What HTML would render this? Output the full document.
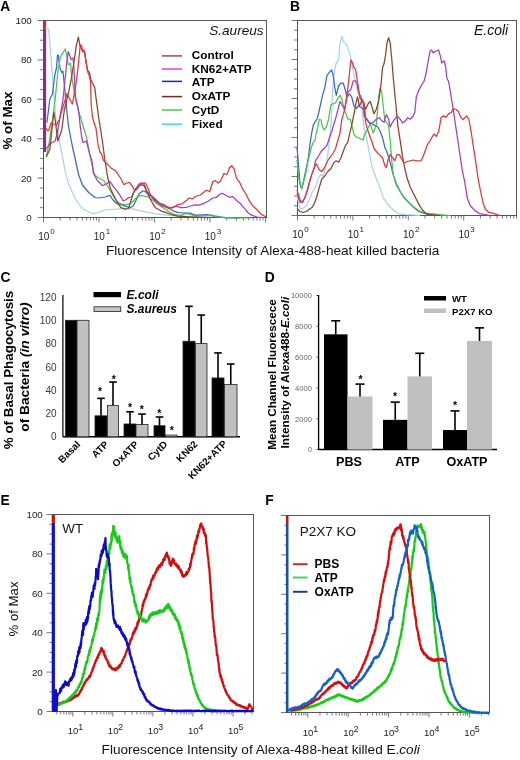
<!DOCTYPE html>
<html><head><meta charset="utf-8"><style>
html,body{margin:0;padding:0;background:#fff;}
svg{display:block;font-family:"Liberation Sans",sans-serif;will-change:transform;}
</style></head><body>
<svg width="520" height="760" viewBox="0 0 520 760">
<rect width="520" height="760" fill="#fff"/>
<text x="0.3" y="11.1" font-size="13.8" text-anchor="start" font-weight="bold" font-style="normal" fill="#000" >A</text>
<text x="289.9" y="10.9" font-size="13.8" text-anchor="start" font-weight="bold" font-style="normal" fill="#000" >B</text>
<text x="0.4" y="282.4" font-size="13.8" text-anchor="start" font-weight="bold" font-style="normal" fill="#000" >C</text>
<text x="264.8" y="281.6" font-size="13.8" text-anchor="start" font-weight="bold" font-style="normal" fill="#000" >D</text>
<text x="0.4" y="504.9" font-size="13.8" text-anchor="start" font-weight="bold" font-style="normal" fill="#000" >E</text>
<text x="265.3" y="504.9" font-size="13.8" text-anchor="start" font-weight="bold" font-style="normal" fill="#000" >F</text>
<rect x="43.5" y="20.5" width="223.0" height="197.0" fill="none" stroke="#555" stroke-width="1"/>
<line x1="37.5" y1="217.5" x2="43.5" y2="217.5" stroke="#555" stroke-width="0.8"/>
<text x="31.8" y="221.028" font-size="9.8" text-anchor="end" font-weight="normal" font-style="normal" fill="#222" >0</text>
<line x1="40.0" y1="207.65" x2="43.5" y2="207.65" stroke="#555" stroke-width="0.8"/>
<line x1="40.0" y1="197.8" x2="43.5" y2="197.8" stroke="#555" stroke-width="0.8"/>
<line x1="40.0" y1="187.95" x2="43.5" y2="187.95" stroke="#555" stroke-width="0.8"/>
<line x1="37.5" y1="178.1" x2="43.5" y2="178.1" stroke="#555" stroke-width="0.8"/>
<text x="31.8" y="181.628" font-size="9.8" text-anchor="end" font-weight="normal" font-style="normal" fill="#222" >20</text>
<line x1="40.0" y1="168.25" x2="43.5" y2="168.25" stroke="#555" stroke-width="0.8"/>
<line x1="40.0" y1="158.4" x2="43.5" y2="158.4" stroke="#555" stroke-width="0.8"/>
<line x1="40.0" y1="148.55" x2="43.5" y2="148.55" stroke="#555" stroke-width="0.8"/>
<line x1="37.5" y1="138.7" x2="43.5" y2="138.7" stroke="#555" stroke-width="0.8"/>
<text x="31.8" y="142.22799999999998" font-size="9.8" text-anchor="end" font-weight="normal" font-style="normal" fill="#222" >40</text>
<line x1="40.0" y1="128.85" x2="43.5" y2="128.85" stroke="#555" stroke-width="0.8"/>
<line x1="40.0" y1="119.0" x2="43.5" y2="119.0" stroke="#555" stroke-width="0.8"/>
<line x1="40.0" y1="109.15" x2="43.5" y2="109.15" stroke="#555" stroke-width="0.8"/>
<line x1="37.5" y1="99.3" x2="43.5" y2="99.3" stroke="#555" stroke-width="0.8"/>
<text x="31.8" y="102.828" font-size="9.8" text-anchor="end" font-weight="normal" font-style="normal" fill="#222" >60</text>
<line x1="40.0" y1="89.44999999999999" x2="43.5" y2="89.44999999999999" stroke="#555" stroke-width="0.8"/>
<line x1="40.0" y1="79.6" x2="43.5" y2="79.6" stroke="#555" stroke-width="0.8"/>
<line x1="40.0" y1="69.75" x2="43.5" y2="69.75" stroke="#555" stroke-width="0.8"/>
<line x1="37.5" y1="59.900000000000006" x2="43.5" y2="59.900000000000006" stroke="#555" stroke-width="0.8"/>
<text x="31.8" y="63.428000000000004" font-size="9.8" text-anchor="end" font-weight="normal" font-style="normal" fill="#222" >80</text>
<line x1="40.0" y1="50.05000000000001" x2="43.5" y2="50.05000000000001" stroke="#555" stroke-width="0.8"/>
<line x1="40.0" y1="40.19999999999999" x2="43.5" y2="40.19999999999999" stroke="#555" stroke-width="0.8"/>
<line x1="40.0" y1="30.349999999999994" x2="43.5" y2="30.349999999999994" stroke="#555" stroke-width="0.8"/>
<line x1="37.5" y1="20.5" x2="43.5" y2="20.5" stroke="#555" stroke-width="0.8"/>
<text x="31.8" y="24.028" font-size="9.8" text-anchor="end" font-weight="normal" font-style="normal" fill="#222" >100</text>
<line x1="43.5" y1="217.5" x2="43.5" y2="222.5" stroke="#555" stroke-width="0.8"/>
<line x1="60.20716475935096" y1="217.5" x2="60.20716475935096" y2="220.5" stroke="#555" stroke-width="0.8"/>
<line x1="69.98022963694126" y1="217.5" x2="69.98022963694126" y2="220.5" stroke="#555" stroke-width="0.8"/>
<line x1="76.91432951870192" y1="217.5" x2="76.91432951870192" y2="220.5" stroke="#555" stroke-width="0.8"/>
<line x1="82.29283524064905" y1="217.5" x2="82.29283524064905" y2="220.5" stroke="#555" stroke-width="0.8"/>
<line x1="86.68739439629222" y1="217.5" x2="86.68739439629222" y2="220.5" stroke="#555" stroke-width="0.8"/>
<line x1="90.40294122079126" y1="217.5" x2="90.40294122079126" y2="220.5" stroke="#555" stroke-width="0.8"/>
<line x1="93.62149427805286" y1="217.5" x2="93.62149427805286" y2="220.5" stroke="#555" stroke-width="0.8"/>
<line x1="96.46045927388252" y1="217.5" x2="96.46045927388252" y2="220.5" stroke="#555" stroke-width="0.8"/>
<line x1="99.0" y1="217.5" x2="99.0" y2="222.5" stroke="#555" stroke-width="0.8"/>
<line x1="115.70716475935096" y1="217.5" x2="115.70716475935096" y2="220.5" stroke="#555" stroke-width="0.8"/>
<line x1="125.48022963694126" y1="217.5" x2="125.48022963694126" y2="220.5" stroke="#555" stroke-width="0.8"/>
<line x1="132.41432951870192" y1="217.5" x2="132.41432951870192" y2="220.5" stroke="#555" stroke-width="0.8"/>
<line x1="137.79283524064903" y1="217.5" x2="137.79283524064903" y2="220.5" stroke="#555" stroke-width="0.8"/>
<line x1="142.18739439629223" y1="217.5" x2="142.18739439629223" y2="220.5" stroke="#555" stroke-width="0.8"/>
<line x1="145.90294122079126" y1="217.5" x2="145.90294122079126" y2="220.5" stroke="#555" stroke-width="0.8"/>
<line x1="149.12149427805286" y1="217.5" x2="149.12149427805286" y2="220.5" stroke="#555" stroke-width="0.8"/>
<line x1="151.96045927388252" y1="217.5" x2="151.96045927388252" y2="220.5" stroke="#555" stroke-width="0.8"/>
<line x1="154.5" y1="217.5" x2="154.5" y2="222.5" stroke="#555" stroke-width="0.8"/>
<line x1="171.20716475935097" y1="217.5" x2="171.20716475935097" y2="220.5" stroke="#555" stroke-width="0.8"/>
<line x1="180.98022963694126" y1="217.5" x2="180.98022963694126" y2="220.5" stroke="#555" stroke-width="0.8"/>
<line x1="187.91432951870192" y1="217.5" x2="187.91432951870192" y2="220.5" stroke="#555" stroke-width="0.8"/>
<line x1="193.29283524064903" y1="217.5" x2="193.29283524064903" y2="220.5" stroke="#555" stroke-width="0.8"/>
<line x1="197.68739439629223" y1="217.5" x2="197.68739439629223" y2="220.5" stroke="#555" stroke-width="0.8"/>
<line x1="201.40294122079126" y1="217.5" x2="201.40294122079126" y2="220.5" stroke="#555" stroke-width="0.8"/>
<line x1="204.62149427805286" y1="217.5" x2="204.62149427805286" y2="220.5" stroke="#555" stroke-width="0.8"/>
<line x1="207.46045927388252" y1="217.5" x2="207.46045927388252" y2="220.5" stroke="#555" stroke-width="0.8"/>
<line x1="210.0" y1="217.5" x2="210.0" y2="222.5" stroke="#555" stroke-width="0.8"/>
<line x1="226.70716475935097" y1="217.5" x2="226.70716475935097" y2="220.5" stroke="#555" stroke-width="0.8"/>
<line x1="236.48022963694126" y1="217.5" x2="236.48022963694126" y2="220.5" stroke="#555" stroke-width="0.8"/>
<line x1="243.41432951870192" y1="217.5" x2="243.41432951870192" y2="220.5" stroke="#555" stroke-width="0.8"/>
<line x1="248.79283524064903" y1="217.5" x2="248.79283524064903" y2="220.5" stroke="#555" stroke-width="0.8"/>
<line x1="253.18739439629223" y1="217.5" x2="253.18739439629223" y2="220.5" stroke="#555" stroke-width="0.8"/>
<line x1="256.90294122079126" y1="217.5" x2="256.90294122079126" y2="220.5" stroke="#555" stroke-width="0.8"/>
<line x1="260.12149427805286" y1="217.5" x2="260.12149427805286" y2="220.5" stroke="#555" stroke-width="0.8"/>
<line x1="262.9604592738825" y1="217.5" x2="262.9604592738825" y2="220.5" stroke="#555" stroke-width="0.8"/>
<line x1="265.5" y1="217.5" x2="265.5" y2="222.5" stroke="#555" stroke-width="0.8"/>
<text x="38.24" y="240" font-size="10" fill="#222">10<tspan font-size="8" dx="0.8" dy="-6.5">0</tspan></text>
<text x="93.74" y="240" font-size="10" fill="#222">10<tspan font-size="8" dx="0.8" dy="-6.5">1</tspan></text>
<text x="149.24" y="240" font-size="10" fill="#222">10<tspan font-size="8" dx="0.8" dy="-6.5">2</tspan></text>
<text x="204.74" y="240" font-size="10" fill="#222">10<tspan font-size="8" dx="0.8" dy="-6.5">3</tspan></text>
<text x="13" y="121.5" font-size="13.4" text-anchor="middle" font-weight="bold" font-style="normal" fill="#000" transform="rotate(-90 12 121.5)">% of Max</text>
<text x="263.6" y="35.3" font-size="13.6" text-anchor="end" font-weight="normal" font-style="italic" fill="#111" >S.aureus</text>
<line x1="162" y1="55.9" x2="182" y2="55.9" stroke="#c83c3c" stroke-width="1.5"/>
<text x="191.8" y="59.3" font-size="11.8" text-anchor="start" font-weight="bold" font-style="normal" fill="#000" >Control</text>
<line x1="162" y1="69" x2="182" y2="69" stroke="#e040e0" stroke-width="1.5"/>
<text x="191.8" y="72.5" font-size="11.8" text-anchor="start" font-weight="bold" font-style="normal" fill="#000" >KN62+ATP</text>
<line x1="162" y1="81.4" x2="182" y2="81.4" stroke="#2424b4" stroke-width="1.5"/>
<text x="191.8" y="86.2" font-size="11.8" text-anchor="start" font-weight="bold" font-style="normal" fill="#000" >ATP</text>
<line x1="162" y1="96.6" x2="182" y2="96.6" stroke="#802424" stroke-width="1.5"/>
<text x="191.8" y="100" font-size="11.8" text-anchor="start" font-weight="bold" font-style="normal" fill="#000" >OxATP</text>
<line x1="162" y1="110" x2="182" y2="110" stroke="#50c450" stroke-width="1.5"/>
<text x="191.8" y="113.8" font-size="11.8" text-anchor="start" font-weight="bold" font-style="normal" fill="#000" >CytD</text>
<line x1="162" y1="124.2" x2="182" y2="124.2" stroke="#40d8f0" stroke-width="1.5"/>
<text x="191.8" y="127.5" font-size="11.8" text-anchor="start" font-weight="bold" font-style="normal" fill="#000" >Fixed</text>
<rect x="297.5" y="20.5" width="219.0" height="195.0" fill="none" stroke="#555" stroke-width="1"/>
<line x1="291.5" y1="215.5" x2="297.5" y2="215.5" stroke="#555" stroke-width="0.8"/>
<line x1="294.0" y1="205.75" x2="297.5" y2="205.75" stroke="#555" stroke-width="0.8"/>
<line x1="294.0" y1="196.0" x2="297.5" y2="196.0" stroke="#555" stroke-width="0.8"/>
<line x1="294.0" y1="186.25" x2="297.5" y2="186.25" stroke="#555" stroke-width="0.8"/>
<line x1="291.5" y1="176.5" x2="297.5" y2="176.5" stroke="#555" stroke-width="0.8"/>
<line x1="294.0" y1="166.75" x2="297.5" y2="166.75" stroke="#555" stroke-width="0.8"/>
<line x1="294.0" y1="157.0" x2="297.5" y2="157.0" stroke="#555" stroke-width="0.8"/>
<line x1="294.0" y1="147.25" x2="297.5" y2="147.25" stroke="#555" stroke-width="0.8"/>
<line x1="291.5" y1="137.5" x2="297.5" y2="137.5" stroke="#555" stroke-width="0.8"/>
<line x1="294.0" y1="127.75" x2="297.5" y2="127.75" stroke="#555" stroke-width="0.8"/>
<line x1="294.0" y1="118.0" x2="297.5" y2="118.0" stroke="#555" stroke-width="0.8"/>
<line x1="294.0" y1="108.25" x2="297.5" y2="108.25" stroke="#555" stroke-width="0.8"/>
<line x1="291.5" y1="98.5" x2="297.5" y2="98.5" stroke="#555" stroke-width="0.8"/>
<line x1="294.0" y1="88.75" x2="297.5" y2="88.75" stroke="#555" stroke-width="0.8"/>
<line x1="294.0" y1="79.0" x2="297.5" y2="79.0" stroke="#555" stroke-width="0.8"/>
<line x1="294.0" y1="69.25" x2="297.5" y2="69.25" stroke="#555" stroke-width="0.8"/>
<line x1="291.5" y1="59.5" x2="297.5" y2="59.5" stroke="#555" stroke-width="0.8"/>
<line x1="294.0" y1="49.75" x2="297.5" y2="49.75" stroke="#555" stroke-width="0.8"/>
<line x1="294.0" y1="40.0" x2="297.5" y2="40.0" stroke="#555" stroke-width="0.8"/>
<line x1="294.0" y1="30.25" x2="297.5" y2="30.25" stroke="#555" stroke-width="0.8"/>
<line x1="291.5" y1="20.5" x2="297.5" y2="20.5" stroke="#555" stroke-width="0.8"/>
<line x1="297.5" y1="215.5" x2="297.5" y2="220.5" stroke="#555" stroke-width="0.8"/>
<line x1="314.1770617597846" y1="215.5" x2="314.1770617597846" y2="218.5" stroke="#555" stroke-width="0.8"/>
<line x1="323.9325175114693" y1="215.5" x2="323.9325175114693" y2="218.5" stroke="#555" stroke-width="0.8"/>
<line x1="330.8541235195691" y1="215.5" x2="330.8541235195691" y2="218.5" stroke="#555" stroke-width="0.8"/>
<line x1="336.22293824021546" y1="215.5" x2="336.22293824021546" y2="218.5" stroke="#555" stroke-width="0.8"/>
<line x1="340.60957927125384" y1="215.5" x2="340.60957927125384" y2="218.5" stroke="#555" stroke-width="0.8"/>
<line x1="344.31843141678985" y1="215.5" x2="344.31843141678985" y2="218.5" stroke="#555" stroke-width="0.8"/>
<line x1="347.5311852793537" y1="215.5" x2="347.5311852793537" y2="218.5" stroke="#555" stroke-width="0.8"/>
<line x1="350.3650350229386" y1="215.5" x2="350.3650350229386" y2="218.5" stroke="#555" stroke-width="0.8"/>
<line x1="352.9" y1="215.5" x2="352.9" y2="220.5" stroke="#555" stroke-width="0.8"/>
<line x1="369.57706175978456" y1="215.5" x2="369.57706175978456" y2="218.5" stroke="#555" stroke-width="0.8"/>
<line x1="379.3325175114693" y1="215.5" x2="379.3325175114693" y2="218.5" stroke="#555" stroke-width="0.8"/>
<line x1="386.25412351956913" y1="215.5" x2="386.25412351956913" y2="218.5" stroke="#555" stroke-width="0.8"/>
<line x1="391.62293824021543" y1="215.5" x2="391.62293824021543" y2="218.5" stroke="#555" stroke-width="0.8"/>
<line x1="396.00957927125387" y1="215.5" x2="396.00957927125387" y2="218.5" stroke="#555" stroke-width="0.8"/>
<line x1="399.7184314167898" y1="215.5" x2="399.7184314167898" y2="218.5" stroke="#555" stroke-width="0.8"/>
<line x1="402.93118527935366" y1="215.5" x2="402.93118527935366" y2="218.5" stroke="#555" stroke-width="0.8"/>
<line x1="405.7650350229386" y1="215.5" x2="405.7650350229386" y2="218.5" stroke="#555" stroke-width="0.8"/>
<line x1="408.3" y1="215.5" x2="408.3" y2="220.5" stroke="#555" stroke-width="0.8"/>
<line x1="424.97706175978453" y1="215.5" x2="424.97706175978453" y2="218.5" stroke="#555" stroke-width="0.8"/>
<line x1="434.73251751146927" y1="215.5" x2="434.73251751146927" y2="218.5" stroke="#555" stroke-width="0.8"/>
<line x1="441.6541235195691" y1="215.5" x2="441.6541235195691" y2="218.5" stroke="#555" stroke-width="0.8"/>
<line x1="447.02293824021547" y1="215.5" x2="447.02293824021547" y2="218.5" stroke="#555" stroke-width="0.8"/>
<line x1="451.40957927125385" y1="215.5" x2="451.40957927125385" y2="218.5" stroke="#555" stroke-width="0.8"/>
<line x1="455.1184314167898" y1="215.5" x2="455.1184314167898" y2="218.5" stroke="#555" stroke-width="0.8"/>
<line x1="458.3311852793537" y1="215.5" x2="458.3311852793537" y2="218.5" stroke="#555" stroke-width="0.8"/>
<line x1="461.1650350229386" y1="215.5" x2="461.1650350229386" y2="218.5" stroke="#555" stroke-width="0.8"/>
<line x1="463.7" y1="215.5" x2="463.7" y2="220.5" stroke="#555" stroke-width="0.8"/>
<line x1="480.37706175978457" y1="215.5" x2="480.37706175978457" y2="218.5" stroke="#555" stroke-width="0.8"/>
<line x1="490.1325175114693" y1="215.5" x2="490.1325175114693" y2="218.5" stroke="#555" stroke-width="0.8"/>
<line x1="497.0541235195691" y1="215.5" x2="497.0541235195691" y2="218.5" stroke="#555" stroke-width="0.8"/>
<line x1="502.42293824021544" y1="215.5" x2="502.42293824021544" y2="218.5" stroke="#555" stroke-width="0.8"/>
<line x1="506.8095792712538" y1="215.5" x2="506.8095792712538" y2="218.5" stroke="#555" stroke-width="0.8"/>
<line x1="510.51843141678984" y1="215.5" x2="510.51843141678984" y2="218.5" stroke="#555" stroke-width="0.8"/>
<line x1="513.7311852793537" y1="215.5" x2="513.7311852793537" y2="218.5" stroke="#555" stroke-width="0.8"/>
<line x1="516.5650350229386" y1="215.5" x2="516.5650350229386" y2="218.5" stroke="#555" stroke-width="0.8"/>
<text x="292.24" y="238.2" font-size="10" fill="#222">10<tspan font-size="8" dx="0.8" dy="-6.5">0</tspan></text>
<text x="347.64" y="238.2" font-size="10" fill="#222">10<tspan font-size="8" dx="0.8" dy="-6.5">1</tspan></text>
<text x="403.04" y="238.2" font-size="10" fill="#222">10<tspan font-size="8" dx="0.8" dy="-6.5">2</tspan></text>
<text x="458.44" y="238.2" font-size="10" fill="#222">10<tspan font-size="8" dx="0.8" dy="-6.5">3</tspan></text>
<text x="508.2" y="34.8" font-size="14" text-anchor="end" font-weight="normal" font-style="italic" fill="#111" >E.coli</text>
<text x="106" y="255" font-size="13.6" text-anchor="start" font-weight="normal" font-style="normal" fill="#111" >Fluorescence Intensity of Alexa-488-heat killed bacteria</text>
<line x1="62.9" y1="295" x2="62.9" y2="436.8" stroke="#000" stroke-width="1.2"/>
<line x1="62.9" y1="436.8" x2="240" y2="436.8" stroke="#000" stroke-width="1.5"/>
<text x="56.5" y="440.40000000000003" font-size="10" text-anchor="end" font-weight="normal" font-style="normal" fill="#3a3a3a" >0</text>
<text x="56.5" y="417.1" font-size="10" text-anchor="end" font-weight="normal" font-style="normal" fill="#3a3a3a" >20</text>
<text x="56.5" y="393.8" font-size="10" text-anchor="end" font-weight="normal" font-style="normal" fill="#3a3a3a" >40</text>
<text x="56.5" y="370.5" font-size="10" text-anchor="end" font-weight="normal" font-style="normal" fill="#3a3a3a" >60</text>
<text x="56.5" y="347.20000000000005" font-size="10" text-anchor="end" font-weight="normal" font-style="normal" fill="#3a3a3a" >80</text>
<text x="56.5" y="323.90000000000003" font-size="10" text-anchor="end" font-weight="normal" font-style="normal" fill="#3a3a3a" >100</text>
<text x="56.5" y="300.6" font-size="10" text-anchor="end" font-weight="normal" font-style="normal" fill="#3a3a3a" >120</text>
<rect x="65.5" y="320.3" width="11.5" height="116.5" fill="#000" stroke="#222" stroke-width="0.8"/>
<rect x="77" y="320.3" width="12" height="116.5" fill="#c0c0c0" stroke="#222" stroke-width="0.8"/>
<rect x="95" y="415.83000000000004" width="12" height="20.96999999999997" fill="#000" stroke="#222" stroke-width="0.8"/>
<line x1="101.0" y1="415.83000000000004" x2="101.0" y2="398.355" stroke="#000" stroke-width="1.6"/>
<line x1="97.2" y1="398.355" x2="104.8" y2="398.355" stroke="#000" stroke-width="1.6"/>
<rect x="107.5" y="405.345" width="11.0" height="31.454999999999984" fill="#c0c0c0" stroke="#222" stroke-width="0.8"/>
<line x1="113.0" y1="405.345" x2="113.0" y2="382.045" stroke="#000" stroke-width="1.6"/>
<line x1="109.2" y1="382.045" x2="116.8" y2="382.045" stroke="#000" stroke-width="1.6"/>
<rect x="124" y="423.985" width="12" height="12.814999999999998" fill="#000" stroke="#222" stroke-width="0.8"/>
<line x1="130.0" y1="423.985" x2="130.0" y2="411.7525" stroke="#000" stroke-width="1.6"/>
<line x1="126.2" y1="411.7525" x2="133.8" y2="411.7525" stroke="#000" stroke-width="1.6"/>
<rect x="136" y="424.5675" width="12" height="12.232500000000016" fill="#c0c0c0" stroke="#222" stroke-width="0.8"/>
<line x1="142.0" y1="424.5675" x2="142.0" y2="414.0825" stroke="#000" stroke-width="1.6"/>
<line x1="138.2" y1="414.0825" x2="145.8" y2="414.0825" stroke="#000" stroke-width="1.6"/>
<rect x="154" y="425.7325" width="11" height="11.067499999999995" fill="#000" stroke="#222" stroke-width="0.8"/>
<line x1="159.5" y1="425.7325" x2="159.5" y2="416.995" stroke="#000" stroke-width="1.6"/>
<line x1="155.7" y1="416.995" x2="163.3" y2="416.995" stroke="#000" stroke-width="1.6"/>
<rect x="165.5" y="435.0525" width="11.5" height="1.7475000000000023" fill="#c0c0c0" stroke="#222" stroke-width="0.8"/>
<rect x="183" y="341.27" width="12" height="95.53000000000003" fill="#000" stroke="#222" stroke-width="0.8"/>
<line x1="189.0" y1="341.27" x2="189.0" y2="306.32" stroke="#000" stroke-width="1.6"/>
<line x1="185.2" y1="306.32" x2="192.8" y2="306.32" stroke="#000" stroke-width="1.6"/>
<rect x="195.5" y="343.6" width="11.5" height="93.19999999999999" fill="#c0c0c0" stroke="#222" stroke-width="0.8"/>
<line x1="201.25" y1="343.6" x2="201.25" y2="315.0575" stroke="#000" stroke-width="1.6"/>
<line x1="197.45" y1="315.0575" x2="205.05" y2="315.0575" stroke="#000" stroke-width="1.6"/>
<rect x="212" y="377.96750000000003" width="12" height="58.83249999999998" fill="#000" stroke="#222" stroke-width="0.8"/>
<line x1="218.0" y1="377.96750000000003" x2="218.0" y2="352.92" stroke="#000" stroke-width="1.6"/>
<line x1="214.2" y1="352.92" x2="221.8" y2="352.92" stroke="#000" stroke-width="1.6"/>
<rect x="224.5" y="384.375" width="12.5" height="52.42500000000001" fill="#c0c0c0" stroke="#222" stroke-width="0.8"/>
<line x1="230.75" y1="384.375" x2="230.75" y2="363.9875" stroke="#000" stroke-width="1.6"/>
<line x1="226.95" y1="363.9875" x2="234.55" y2="363.9875" stroke="#000" stroke-width="1.6"/>
<text x="100.1" y="395.29999999999995" font-size="10.5" text-anchor="middle" font-weight="bold" font-style="normal" fill="#000" >*</text>
<text x="113.9" y="382.59999999999997" font-size="10.5" text-anchor="middle" font-weight="bold" font-style="normal" fill="#000" >*</text>
<text x="130.1" y="411.4" font-size="10.5" text-anchor="middle" font-weight="bold" font-style="normal" fill="#000" >*</text>
<text x="141.9" y="412.9" font-size="10.5" text-anchor="middle" font-weight="bold" font-style="normal" fill="#000" >*</text>
<text x="159.4" y="417.4" font-size="10.5" text-anchor="middle" font-weight="bold" font-style="normal" fill="#000" >*</text>
<text x="171.9" y="433.59999999999997" font-size="10.5" text-anchor="middle" font-weight="bold" font-style="normal" fill="#000" >*</text>
<rect x="93.5" y="292" width="27.5" height="5.2" fill="#000" stroke="none" stroke-width="0"/>
<rect x="94" y="306.8" width="26.8" height="4.6" fill="#c4c4c4" stroke="#222" stroke-width="0.8"/>
<text x="126.6" y="298.6" font-size="12" text-anchor="start" font-weight="bold" font-style="italic" fill="#000" >E.coli</text>
<text x="126.6" y="312.6" font-size="11.9" text-anchor="start" font-weight="bold" font-style="italic" fill="#000" >S.aureus</text>
<text x="80.89999999999999" y="445.0" font-size="9.9" text-anchor="end" font-weight="bold" font-style="normal" fill="#000" transform="rotate(-45 80.89999999999999 445.0)">Basal</text>
<text x="109.19999999999999" y="445.0" font-size="9.9" text-anchor="end" font-weight="bold" font-style="normal" fill="#000" transform="rotate(-45 109.19999999999999 445.0)">ATP</text>
<text x="139.1" y="445.0" font-size="9.9" text-anchor="end" font-weight="bold" font-style="normal" fill="#000" transform="rotate(-45 139.1 445.0)">OxATP</text>
<text x="168.1" y="445.0" font-size="9.9" text-anchor="end" font-weight="bold" font-style="normal" fill="#000" transform="rotate(-45 168.1 445.0)">CytD</text>
<text x="198.2" y="444.8" font-size="9.9" text-anchor="end" font-weight="bold" font-style="normal" fill="#000" transform="rotate(-45 198.2 444.8)">KN62</text>
<text x="227.6" y="444.4" font-size="9.9" text-anchor="end" font-weight="bold" font-style="normal" fill="#000" transform="rotate(-45 227.6 444.4)">KN62+ATP</text>
<text x="13.2" y="370" font-size="13.4" text-anchor="middle" font-weight="bold" font-style="normal" fill="#000" transform="rotate(-90 13.2 370)">% of Basal Phagocytosis</text>
<text x="28.8" y="367" font-size="13.7" text-anchor="middle" font-weight="bold" transform="rotate(-90 28.8 367)">of Bacteria <tspan font-style="italic">(in vitro)</tspan></text>
<line x1="318.6" y1="295" x2="318.6" y2="449.6" stroke="#000" stroke-width="1.3"/>
<line x1="318.6" y1="449.6" x2="497" y2="449.6" stroke="#000" stroke-width="1.5"/>
<line x1="316.6" y1="449.6" x2="318.6" y2="449.6" stroke="#000" stroke-width="0.8"/>
<text x="312" y="452.40000000000003" font-size="7.6" text-anchor="end" font-weight="normal" font-style="normal" fill="#666" >0</text>
<line x1="316.6" y1="418.78000000000003" x2="318.6" y2="418.78000000000003" stroke="#000" stroke-width="0.8"/>
<text x="312" y="421.58000000000004" font-size="7.6" text-anchor="end" font-weight="normal" font-style="normal" fill="#666" >2000</text>
<line x1="316.6" y1="387.96000000000004" x2="318.6" y2="387.96000000000004" stroke="#000" stroke-width="0.8"/>
<text x="312" y="390.76000000000005" font-size="7.6" text-anchor="end" font-weight="normal" font-style="normal" fill="#666" >4000</text>
<line x1="316.6" y1="357.14" x2="318.6" y2="357.14" stroke="#000" stroke-width="0.8"/>
<text x="312" y="359.94" font-size="7.6" text-anchor="end" font-weight="normal" font-style="normal" fill="#666" >6000</text>
<line x1="316.6" y1="326.32" x2="318.6" y2="326.32" stroke="#000" stroke-width="0.8"/>
<text x="312" y="329.12" font-size="7.6" text-anchor="end" font-weight="normal" font-style="normal" fill="#666" >8000</text>
<line x1="316.6" y1="295.5" x2="318.6" y2="295.5" stroke="#000" stroke-width="0.8"/>
<text x="312" y="298.3" font-size="7.6" text-anchor="end" font-weight="normal" font-style="normal" fill="#666" >10000</text>
<rect x="324" y="334.33320000000003" width="23.5" height="115.26679999999999" fill="#000" stroke="none" stroke-width="0"/>
<line x1="335.75" y1="334.33320000000003" x2="335.75" y2="320.7724" stroke="#000" stroke-width="1.6"/>
<line x1="331.25" y1="320.7724" x2="340.25" y2="320.7724" stroke="#000" stroke-width="1.6"/>
<rect x="347.5" y="396.43550000000005" width="25.0" height="53.164499999999975" fill="#c0c0c0" stroke="none" stroke-width="0"/>
<line x1="360.0" y1="396.43550000000005" x2="360.0" y2="384.1075000000001" stroke="#000" stroke-width="1.6"/>
<line x1="355.5" y1="384.1075000000001" x2="364.5" y2="384.1075000000001" stroke="#000" stroke-width="1.6"/>
<rect x="383" y="419.8587" width="24.5" height="29.741300000000024" fill="#000" stroke="none" stroke-width="0"/>
<line x1="395.25" y1="419.8587" x2="395.25" y2="402.1372" stroke="#000" stroke-width="1.6"/>
<line x1="390.75" y1="402.1372" x2="399.75" y2="402.1372" stroke="#000" stroke-width="1.6"/>
<rect x="407.5" y="376.40250000000003" width="24.5" height="73.19749999999999" fill="#c0c0c0" stroke="none" stroke-width="0"/>
<line x1="419.75" y1="376.40250000000003" x2="419.75" y2="353.2875" stroke="#000" stroke-width="1.6"/>
<line x1="415.25" y1="353.2875" x2="424.25" y2="353.2875" stroke="#000" stroke-width="1.6"/>
<rect x="443" y="430.02930000000003" width="24" height="19.570699999999988" fill="#000" stroke="none" stroke-width="0"/>
<line x1="455.0" y1="430.02930000000003" x2="455.0" y2="410.9209" stroke="#000" stroke-width="1.6"/>
<line x1="450.5" y1="410.9209" x2="459.5" y2="410.9209" stroke="#000" stroke-width="1.6"/>
<rect x="467" y="340.9595" width="25" height="108.64050000000003" fill="#c0c0c0" stroke="none" stroke-width="0"/>
<line x1="479.5" y1="340.9595" x2="479.5" y2="327.861" stroke="#000" stroke-width="1.6"/>
<line x1="475.0" y1="327.861" x2="484.0" y2="327.861" stroke="#000" stroke-width="1.6"/>
<text x="360.5" y="382.9" font-size="10.5" text-anchor="middle" font-weight="bold" font-style="normal" fill="#000" >*</text>
<text x="395" y="400.4" font-size="10.5" text-anchor="middle" font-weight="bold" font-style="normal" fill="#000" >*</text>
<text x="455" y="409.4" font-size="10.5" text-anchor="middle" font-weight="bold" font-style="normal" fill="#000" >*</text>
<text x="349" y="466" font-size="12.6" text-anchor="middle" font-weight="bold" font-style="normal" fill="#000" >PBS</text>
<text x="407.5" y="466" font-size="12.6" text-anchor="middle" font-weight="bold" font-style="normal" fill="#000" >ATP</text>
<text x="467" y="466" font-size="12.6" text-anchor="middle" font-weight="bold" font-style="normal" fill="#000" >OxATP</text>
<rect x="424" y="296" width="22" height="4.5" fill="#000" stroke="none" stroke-width="0"/>
<rect x="424" y="308.5" width="22" height="4.5" fill="#c0c0c0" stroke="none" stroke-width="0"/>
<text x="452" y="301.5" font-size="9.6" text-anchor="start" font-weight="bold" font-style="normal" fill="#000" >WT</text>
<text x="452" y="314.5" font-size="9.6" text-anchor="start" font-weight="bold" font-style="normal" fill="#000" >P2X7 KO</text>
<text x="276" y="374.5" font-size="11.7" text-anchor="middle" font-weight="bold" font-style="normal" fill="#000" transform="rotate(-90 276 374.5)">Mean Channel Fluorescece</text>
<text x="288.8" y="372.6" font-size="11.75" text-anchor="middle" font-weight="bold" transform="rotate(-90 288.8 372.6)">Intensity of Alexa488-<tspan font-style="italic">E.coli</tspan></text>
<rect x="52.5" y="514.5" width="201.0" height="197.0" fill="none" stroke="#555" stroke-width="1"/>
<line x1="46.5" y1="711.5" x2="52.5" y2="711.5" stroke="#555" stroke-width="0.8"/>
<text x="42.8" y="715.028" font-size="9.8" text-anchor="end" font-weight="normal" font-style="normal" fill="#222" >0</text>
<line x1="49.5" y1="701.65" x2="52.5" y2="701.65" stroke="#555" stroke-width="0.8"/>
<line x1="49.5" y1="691.8" x2="52.5" y2="691.8" stroke="#555" stroke-width="0.8"/>
<line x1="49.5" y1="681.95" x2="52.5" y2="681.95" stroke="#555" stroke-width="0.8"/>
<line x1="46.5" y1="672.1" x2="52.5" y2="672.1" stroke="#555" stroke-width="0.8"/>
<text x="42.8" y="675.628" font-size="9.8" text-anchor="end" font-weight="normal" font-style="normal" fill="#222" >20</text>
<line x1="49.5" y1="662.25" x2="52.5" y2="662.25" stroke="#555" stroke-width="0.8"/>
<line x1="49.5" y1="652.4" x2="52.5" y2="652.4" stroke="#555" stroke-width="0.8"/>
<line x1="49.5" y1="642.55" x2="52.5" y2="642.55" stroke="#555" stroke-width="0.8"/>
<line x1="46.5" y1="632.7" x2="52.5" y2="632.7" stroke="#555" stroke-width="0.8"/>
<text x="42.8" y="636.2280000000001" font-size="9.8" text-anchor="end" font-weight="normal" font-style="normal" fill="#222" >40</text>
<line x1="49.5" y1="622.85" x2="52.5" y2="622.85" stroke="#555" stroke-width="0.8"/>
<line x1="49.5" y1="613.0" x2="52.5" y2="613.0" stroke="#555" stroke-width="0.8"/>
<line x1="49.5" y1="603.15" x2="52.5" y2="603.15" stroke="#555" stroke-width="0.8"/>
<line x1="46.5" y1="593.3" x2="52.5" y2="593.3" stroke="#555" stroke-width="0.8"/>
<text x="42.8" y="596.828" font-size="9.8" text-anchor="end" font-weight="normal" font-style="normal" fill="#222" >60</text>
<line x1="49.5" y1="583.45" x2="52.5" y2="583.45" stroke="#555" stroke-width="0.8"/>
<line x1="49.5" y1="573.6" x2="52.5" y2="573.6" stroke="#555" stroke-width="0.8"/>
<line x1="49.5" y1="563.75" x2="52.5" y2="563.75" stroke="#555" stroke-width="0.8"/>
<line x1="46.5" y1="553.9" x2="52.5" y2="553.9" stroke="#555" stroke-width="0.8"/>
<text x="42.8" y="557.428" font-size="9.8" text-anchor="end" font-weight="normal" font-style="normal" fill="#222" >80</text>
<line x1="49.5" y1="544.05" x2="52.5" y2="544.05" stroke="#555" stroke-width="0.8"/>
<line x1="49.5" y1="534.2" x2="52.5" y2="534.2" stroke="#555" stroke-width="0.8"/>
<line x1="49.5" y1="524.35" x2="52.5" y2="524.35" stroke="#555" stroke-width="0.8"/>
<line x1="46.5" y1="514.5" x2="52.5" y2="514.5" stroke="#555" stroke-width="0.8"/>
<text x="42.8" y="518.028" font-size="9.8" text-anchor="end" font-weight="normal" font-style="normal" fill="#222" >100</text>
<line x1="56.862502652684896" y1="711.5" x2="56.862502652684896" y2="714.5" stroke="#555" stroke-width="0.8"/>
<line x1="60.74374867365755" y1="711.5" x2="60.74374867365755" y2="714.5" stroke="#555" stroke-width="0.8"/>
<line x1="63.914957577864925" y1="711.5" x2="63.914957577864925" y2="714.5" stroke="#555" stroke-width="0.8"/>
<line x1="66.59617650257098" y1="711.5" x2="66.59617650257098" y2="714.5" stroke="#555" stroke-width="0.8"/>
<line x1="68.91875397902734" y1="711.5" x2="68.91875397902734" y2="714.5" stroke="#555" stroke-width="0.8"/>
<line x1="70.96741250304495" y1="711.5" x2="70.96741250304495" y2="714.5" stroke="#555" stroke-width="0.8"/>
<line x1="72.8" y1="711.5" x2="72.8" y2="716.5" stroke="#555" stroke-width="0.8"/>
<line x1="84.85625132634244" y1="711.5" x2="84.85625132634244" y2="714.5" stroke="#555" stroke-width="0.8"/>
<line x1="91.90870625152247" y1="711.5" x2="91.90870625152247" y2="714.5" stroke="#555" stroke-width="0.8"/>
<line x1="96.91250265268489" y1="711.5" x2="96.91250265268489" y2="714.5" stroke="#555" stroke-width="0.8"/>
<line x1="100.79374867365755" y1="711.5" x2="100.79374867365755" y2="714.5" stroke="#555" stroke-width="0.8"/>
<line x1="103.96495757786492" y1="711.5" x2="103.96495757786492" y2="714.5" stroke="#555" stroke-width="0.8"/>
<line x1="106.64617650257098" y1="711.5" x2="106.64617650257098" y2="714.5" stroke="#555" stroke-width="0.8"/>
<line x1="108.96875397902733" y1="711.5" x2="108.96875397902733" y2="714.5" stroke="#555" stroke-width="0.8"/>
<line x1="111.01741250304495" y1="711.5" x2="111.01741250304495" y2="714.5" stroke="#555" stroke-width="0.8"/>
<line x1="112.85" y1="711.5" x2="112.85" y2="716.5" stroke="#555" stroke-width="0.8"/>
<line x1="124.90625132634244" y1="711.5" x2="124.90625132634244" y2="714.5" stroke="#555" stroke-width="0.8"/>
<line x1="131.95870625152247" y1="711.5" x2="131.95870625152247" y2="714.5" stroke="#555" stroke-width="0.8"/>
<line x1="136.9625026526849" y1="711.5" x2="136.9625026526849" y2="714.5" stroke="#555" stroke-width="0.8"/>
<line x1="140.84374867365756" y1="711.5" x2="140.84374867365756" y2="714.5" stroke="#555" stroke-width="0.8"/>
<line x1="144.01495757786495" y1="711.5" x2="144.01495757786495" y2="714.5" stroke="#555" stroke-width="0.8"/>
<line x1="146.69617650257098" y1="711.5" x2="146.69617650257098" y2="714.5" stroke="#555" stroke-width="0.8"/>
<line x1="149.01875397902734" y1="711.5" x2="149.01875397902734" y2="714.5" stroke="#555" stroke-width="0.8"/>
<line x1="151.06741250304495" y1="711.5" x2="151.06741250304495" y2="714.5" stroke="#555" stroke-width="0.8"/>
<line x1="152.89999999999998" y1="711.5" x2="152.89999999999998" y2="716.5" stroke="#555" stroke-width="0.8"/>
<line x1="164.95625132634245" y1="711.5" x2="164.95625132634245" y2="714.5" stroke="#555" stroke-width="0.8"/>
<line x1="172.00870625152248" y1="711.5" x2="172.00870625152248" y2="714.5" stroke="#555" stroke-width="0.8"/>
<line x1="177.0125026526849" y1="711.5" x2="177.0125026526849" y2="714.5" stroke="#555" stroke-width="0.8"/>
<line x1="180.89374867365754" y1="711.5" x2="180.89374867365754" y2="714.5" stroke="#555" stroke-width="0.8"/>
<line x1="184.06495757786493" y1="711.5" x2="184.06495757786493" y2="714.5" stroke="#555" stroke-width="0.8"/>
<line x1="186.746176502571" y1="711.5" x2="186.746176502571" y2="714.5" stroke="#555" stroke-width="0.8"/>
<line x1="189.06875397902735" y1="711.5" x2="189.06875397902735" y2="714.5" stroke="#555" stroke-width="0.8"/>
<line x1="191.11741250304493" y1="711.5" x2="191.11741250304493" y2="714.5" stroke="#555" stroke-width="0.8"/>
<line x1="192.95" y1="711.5" x2="192.95" y2="716.5" stroke="#555" stroke-width="0.8"/>
<line x1="205.00625132634244" y1="711.5" x2="205.00625132634244" y2="714.5" stroke="#555" stroke-width="0.8"/>
<line x1="212.05870625152247" y1="711.5" x2="212.05870625152247" y2="714.5" stroke="#555" stroke-width="0.8"/>
<line x1="217.06250265268488" y1="711.5" x2="217.06250265268488" y2="714.5" stroke="#555" stroke-width="0.8"/>
<line x1="220.94374867365752" y1="711.5" x2="220.94374867365752" y2="714.5" stroke="#555" stroke-width="0.8"/>
<line x1="224.1149575778649" y1="711.5" x2="224.1149575778649" y2="714.5" stroke="#555" stroke-width="0.8"/>
<line x1="226.79617650257097" y1="711.5" x2="226.79617650257097" y2="714.5" stroke="#555" stroke-width="0.8"/>
<line x1="229.11875397902733" y1="711.5" x2="229.11875397902733" y2="714.5" stroke="#555" stroke-width="0.8"/>
<line x1="231.16741250304497" y1="711.5" x2="231.16741250304497" y2="714.5" stroke="#555" stroke-width="0.8"/>
<line x1="233.0" y1="711.5" x2="233.0" y2="716.5" stroke="#555" stroke-width="0.8"/>
<line x1="245.05625132634245" y1="711.5" x2="245.05625132634245" y2="714.5" stroke="#555" stroke-width="0.8"/>
<line x1="252.10870625152248" y1="711.5" x2="252.10870625152248" y2="714.5" stroke="#555" stroke-width="0.8"/>
<text x="67.76" y="733.7" font-size="9.6" fill="#222">10<tspan font-size="8.8" dx="-0.2" dy="-4.2">1</tspan></text>
<text x="107.81" y="733.7" font-size="9.6" fill="#222">10<tspan font-size="8.8" dx="-0.2" dy="-4.2">2</tspan></text>
<text x="147.86" y="733.7" font-size="9.6" fill="#222">10<tspan font-size="8.8" dx="-0.2" dy="-4.2">3</tspan></text>
<text x="187.91" y="733.7" font-size="9.6" fill="#222">10<tspan font-size="8.8" dx="-0.2" dy="-4.2">4</tspan></text>
<text x="227.96" y="733.7" font-size="9.6" fill="#222">10<tspan font-size="8.8" dx="-0.2" dy="-4.2">5</tspan></text>
<text x="62.3" y="533" font-size="13.4" text-anchor="start" font-weight="normal" font-style="normal" fill="#111" >WT</text>
<text x="18" y="609" font-size="13.2" text-anchor="middle" font-weight="normal" font-style="normal" fill="#111" transform="rotate(-90 18 609)">% of Max</text>
<rect x="287.5" y="515.5" width="202.0" height="197.0" fill="none" stroke="#555" stroke-width="1"/>
<line x1="281.0" y1="712.5" x2="287.5" y2="712.5" stroke="#555" stroke-width="0.8"/>
<line x1="284.5" y1="702.65" x2="287.5" y2="702.65" stroke="#555" stroke-width="0.8"/>
<line x1="284.5" y1="692.8" x2="287.5" y2="692.8" stroke="#555" stroke-width="0.8"/>
<line x1="284.5" y1="682.95" x2="287.5" y2="682.95" stroke="#555" stroke-width="0.8"/>
<line x1="281.0" y1="673.1" x2="287.5" y2="673.1" stroke="#555" stroke-width="0.8"/>
<line x1="284.5" y1="663.25" x2="287.5" y2="663.25" stroke="#555" stroke-width="0.8"/>
<line x1="284.5" y1="653.4" x2="287.5" y2="653.4" stroke="#555" stroke-width="0.8"/>
<line x1="284.5" y1="643.55" x2="287.5" y2="643.55" stroke="#555" stroke-width="0.8"/>
<line x1="281.0" y1="633.7" x2="287.5" y2="633.7" stroke="#555" stroke-width="0.8"/>
<line x1="284.5" y1="623.85" x2="287.5" y2="623.85" stroke="#555" stroke-width="0.8"/>
<line x1="284.5" y1="614.0" x2="287.5" y2="614.0" stroke="#555" stroke-width="0.8"/>
<line x1="284.5" y1="604.15" x2="287.5" y2="604.15" stroke="#555" stroke-width="0.8"/>
<line x1="281.0" y1="594.3" x2="287.5" y2="594.3" stroke="#555" stroke-width="0.8"/>
<line x1="284.5" y1="584.45" x2="287.5" y2="584.45" stroke="#555" stroke-width="0.8"/>
<line x1="284.5" y1="574.6" x2="287.5" y2="574.6" stroke="#555" stroke-width="0.8"/>
<line x1="284.5" y1="564.75" x2="287.5" y2="564.75" stroke="#555" stroke-width="0.8"/>
<line x1="281.0" y1="554.9" x2="287.5" y2="554.9" stroke="#555" stroke-width="0.8"/>
<line x1="284.5" y1="545.05" x2="287.5" y2="545.05" stroke="#555" stroke-width="0.8"/>
<line x1="284.5" y1="535.2" x2="287.5" y2="535.2" stroke="#555" stroke-width="0.8"/>
<line x1="284.5" y1="525.35" x2="287.5" y2="525.35" stroke="#555" stroke-width="0.8"/>
<line x1="281.0" y1="515.5" x2="287.5" y2="515.5" stroke="#555" stroke-width="0.8"/>
<line x1="291.72322364964964" y1="712.5" x2="291.72322364964964" y2="715.5" stroke="#555" stroke-width="0.8"/>
<line x1="295.6383881751751" y1="712.5" x2="295.6383881751751" y2="715.5" stroke="#555" stroke-width="0.8"/>
<line x1="298.83731051549915" y1="712.5" x2="298.83731051549915" y2="715.5" stroke="#555" stroke-width="0.8"/>
<line x1="301.54196081657597" y1="712.5" x2="301.54196081657597" y2="715.5" stroke="#555" stroke-width="0.8"/>
<line x1="303.88483547447447" y1="712.5" x2="303.88483547447447" y2="715.5" stroke="#555" stroke-width="0.8"/>
<line x1="305.95139738134867" y1="712.5" x2="305.95139738134867" y2="715.5" stroke="#555" stroke-width="0.8"/>
<line x1="307.79999999999995" y1="712.5" x2="307.79999999999995" y2="717.5" stroke="#555" stroke-width="0.8"/>
<line x1="319.96161182482484" y1="712.5" x2="319.96161182482484" y2="715.5" stroke="#555" stroke-width="0.8"/>
<line x1="327.07569869067436" y1="712.5" x2="327.07569869067436" y2="715.5" stroke="#555" stroke-width="0.8"/>
<line x1="332.1232236496497" y1="712.5" x2="332.1232236496497" y2="715.5" stroke="#555" stroke-width="0.8"/>
<line x1="336.0383881751751" y1="712.5" x2="336.0383881751751" y2="715.5" stroke="#555" stroke-width="0.8"/>
<line x1="339.2373105154992" y1="712.5" x2="339.2373105154992" y2="715.5" stroke="#555" stroke-width="0.8"/>
<line x1="341.94196081657594" y1="712.5" x2="341.94196081657594" y2="715.5" stroke="#555" stroke-width="0.8"/>
<line x1="344.2848354744745" y1="712.5" x2="344.2848354744745" y2="715.5" stroke="#555" stroke-width="0.8"/>
<line x1="346.3513973813487" y1="712.5" x2="346.3513973813487" y2="715.5" stroke="#555" stroke-width="0.8"/>
<line x1="348.2" y1="712.5" x2="348.2" y2="717.5" stroke="#555" stroke-width="0.8"/>
<line x1="360.3616118248248" y1="712.5" x2="360.3616118248248" y2="715.5" stroke="#555" stroke-width="0.8"/>
<line x1="367.47569869067434" y1="712.5" x2="367.47569869067434" y2="715.5" stroke="#555" stroke-width="0.8"/>
<line x1="372.52322364964965" y1="712.5" x2="372.52322364964965" y2="715.5" stroke="#555" stroke-width="0.8"/>
<line x1="376.43838817517513" y1="712.5" x2="376.43838817517513" y2="715.5" stroke="#555" stroke-width="0.8"/>
<line x1="379.63731051549917" y1="712.5" x2="379.63731051549917" y2="715.5" stroke="#555" stroke-width="0.8"/>
<line x1="382.3419608165759" y1="712.5" x2="382.3419608165759" y2="715.5" stroke="#555" stroke-width="0.8"/>
<line x1="384.6848354744745" y1="712.5" x2="384.6848354744745" y2="715.5" stroke="#555" stroke-width="0.8"/>
<line x1="386.7513973813487" y1="712.5" x2="386.7513973813487" y2="715.5" stroke="#555" stroke-width="0.8"/>
<line x1="388.59999999999997" y1="712.5" x2="388.59999999999997" y2="717.5" stroke="#555" stroke-width="0.8"/>
<line x1="400.76161182482485" y1="712.5" x2="400.76161182482485" y2="715.5" stroke="#555" stroke-width="0.8"/>
<line x1="407.8756986906743" y1="712.5" x2="407.8756986906743" y2="715.5" stroke="#555" stroke-width="0.8"/>
<line x1="412.9232236496497" y1="712.5" x2="412.9232236496497" y2="715.5" stroke="#555" stroke-width="0.8"/>
<line x1="416.83838817517517" y1="712.5" x2="416.83838817517517" y2="715.5" stroke="#555" stroke-width="0.8"/>
<line x1="420.03731051549914" y1="712.5" x2="420.03731051549914" y2="715.5" stroke="#555" stroke-width="0.8"/>
<line x1="422.74196081657595" y1="712.5" x2="422.74196081657595" y2="715.5" stroke="#555" stroke-width="0.8"/>
<line x1="425.0848354744745" y1="712.5" x2="425.0848354744745" y2="715.5" stroke="#555" stroke-width="0.8"/>
<line x1="427.1513973813487" y1="712.5" x2="427.1513973813487" y2="715.5" stroke="#555" stroke-width="0.8"/>
<line x1="429.0" y1="712.5" x2="429.0" y2="717.5" stroke="#555" stroke-width="0.8"/>
<line x1="441.16161182482483" y1="712.5" x2="441.16161182482483" y2="715.5" stroke="#555" stroke-width="0.8"/>
<line x1="448.27569869067435" y1="712.5" x2="448.27569869067435" y2="715.5" stroke="#555" stroke-width="0.8"/>
<line x1="453.32322364964966" y1="712.5" x2="453.32322364964966" y2="715.5" stroke="#555" stroke-width="0.8"/>
<line x1="457.23838817517515" y1="712.5" x2="457.23838817517515" y2="715.5" stroke="#555" stroke-width="0.8"/>
<line x1="460.4373105154992" y1="712.5" x2="460.4373105154992" y2="715.5" stroke="#555" stroke-width="0.8"/>
<line x1="463.141960816576" y1="712.5" x2="463.141960816576" y2="715.5" stroke="#555" stroke-width="0.8"/>
<line x1="465.4848354744745" y1="712.5" x2="465.4848354744745" y2="715.5" stroke="#555" stroke-width="0.8"/>
<line x1="467.5513973813487" y1="712.5" x2="467.5513973813487" y2="715.5" stroke="#555" stroke-width="0.8"/>
<line x1="469.4" y1="712.5" x2="469.4" y2="717.5" stroke="#555" stroke-width="0.8"/>
<line x1="481.5616118248248" y1="712.5" x2="481.5616118248248" y2="715.5" stroke="#555" stroke-width="0.8"/>
<line x1="488.6756986906744" y1="712.5" x2="488.6756986906744" y2="715.5" stroke="#555" stroke-width="0.8"/>
<text x="302.76" y="735.8" font-size="9.6" fill="#222">10<tspan font-size="8.8" dx="-0.2" dy="-4.2">1</tspan></text>
<text x="343.16" y="735.8" font-size="9.6" fill="#222">10<tspan font-size="8.8" dx="-0.2" dy="-4.2">2</tspan></text>
<text x="383.56" y="735.8" font-size="9.6" fill="#222">10<tspan font-size="8.8" dx="-0.2" dy="-4.2">3</tspan></text>
<text x="423.96" y="735.8" font-size="9.6" fill="#222">10<tspan font-size="8.8" dx="-0.2" dy="-4.2">4</tspan></text>
<text x="464.36" y="735.8" font-size="9.6" fill="#222">10<tspan font-size="8.8" dx="-0.2" dy="-4.2">5</tspan></text>
<text x="299.8" y="536.3" font-size="13.5" text-anchor="start" font-weight="normal" font-style="normal" fill="#111" >P2X7 KO</text>
<line x1="293" y1="564.2" x2="307.5" y2="564.2" stroke="#d82020" stroke-width="1.9"/>
<text x="314.6" y="568.2" font-size="12" text-anchor="start" font-weight="bold" font-style="normal" fill="#000" >PBS</text>
<line x1="293" y1="577.5" x2="307.5" y2="577.5" stroke="#38d838" stroke-width="1.9"/>
<text x="314.6" y="582" font-size="12" text-anchor="start" font-weight="bold" font-style="normal" fill="#000" >ATP</text>
<line x1="293" y1="591.8" x2="307.5" y2="591.8" stroke="#1830b8" stroke-width="1.9"/>
<text x="314.6" y="596" font-size="12" text-anchor="start" font-weight="bold" font-style="normal" fill="#000" >OxATP</text>
<text x="101.6" y="754" font-size="13.6" fill="#111">Fluorescence Intensity of Alexa-488-heat killed E.<tspan font-style="italic">coli</tspan></text>
<line x1="44.6" y1="28" x2="44.6" y2="152" stroke="#8a2c8c" stroke-width="3.0"/>
<line x1="44.6" y1="20.3" x2="44.6" y2="29" stroke="#c8283c" stroke-width="3.0"/>
<polyline points="45.5,28.5 46.0,27.9 48.6,29.2 51.2,59.5 53.8,93.7 56.5,125.0 60.4,146.0 64.4,167.0 66.0,175.0 68.3,183.0 72.5,192.5 76.0,200.0 82.5,208.7 92.5,213.7 98.7,212.5 105.0,210.0 110.0,209.5 117.7,209.2 125.4,208.5 133.0,209.2 140.8,210.8 148.5,212.3 156.2,213.8 168.5,215.4 179.2,216.2 186.0,213.8 193.9,214.6 201.8,215.4 211.2,214.6 220.7,217.0 230.0,217.8" fill="none" stroke="#a8d2f0" stroke-width="1.25" stroke-linejoin="round" stroke-opacity="1"/>
<polyline points="46.9,122.6 49.9,99.0 52.5,93.7 54.8,75.0 56.5,68.0 57.5,55.0 58.3,55.5 59.9,67.4 61.7,72.6 63.0,71.3 65.7,99.0 68.3,125.0 72.3,146.0 75.0,158.0 78.7,175.0 82.5,185.0 88.7,192.5 95.0,197.5 98.7,198.0 105.0,197.0 110.0,195.4 113.0,200.0 117.0,203.8 120.8,204.6 125.4,206.2 130.0,207.7 133.0,206.2 136.2,200.0 139.2,193.8 143.0,190.8 146.2,192.3 149.2,195.4 152.3,196.2 156.2,200.0 159.2,203.0 163.8,204.6 168.5,207.7 173.0,210.8 177.7,212.3 183.8,213.0 190.0,213.0 195.5,215.4 206.5,214.6 214.4,216.2 225.4,217.8 240.0,218.0" fill="none" stroke="#3a68c4" stroke-width="1.25" stroke-linejoin="round" stroke-opacity="1"/>
<polyline points="46.5,156.0 48.6,146.0 52.5,120.0 55.2,99.0 57.8,72.6 60.4,56.8 63.0,52.9 65.2,49.0 67.0,56.8 68.3,64.7 70.4,63.4 72.3,80.5 74.9,96.3 78.8,112.0 82.8,125.0 86.7,138.0 90.7,159.5 94.6,175.0 98.6,178.0 103.8,180.5 109.0,188.4 113.0,195.4 117.0,201.5 120.8,203.8 125.4,204.6 130.0,203.8 133.0,201.5 137.0,197.0 140.8,195.4 144.6,196.2 148.5,197.0 152.3,200.0 156.2,203.0 160.8,206.2 165.4,209.2 170.0,212.3 174.6,214.6 180.8,215.4 186.0,213.0 195.5,216.2 209.7,215.4 217.5,217.0 233.3,217.8 250.0,218.0" fill="none" stroke="#48c848" stroke-width="1.25" stroke-linejoin="round" stroke-opacity="1"/>
<polyline points="46.0,149.0 49.9,143.7 55.2,141.0 57.8,130.5 60.4,114.7 63.0,99.0 65.2,78.0 67.0,59.5 68.3,51.6 71.0,59.5 73.0,58.0 73.8,66.0 75.0,90.0 75.7,98.0 77.7,106.0 79.0,114.2 80.4,127.7 81.7,137.0 83.0,142.5 86.4,141.0 87.8,146.5 89.8,154.6 91.8,160.0 93.3,172.6 97.3,180.5 102.5,185.8 107.8,183.0 110.0,181.5 113.0,186.2 117.0,190.8 120.0,195.4 123.0,200.8 125.4,200.0 128.5,197.7 131.5,197.0 134.6,190.8 138.5,184.6 140.8,183.0 143.8,183.8 146.2,190.8 149.2,193.8 153.0,198.5 157.7,203.0 162.3,206.2 167.0,207.0 171.5,207.7 176.2,206.2 180.8,207.7 186.0,207.5 190.7,206.0 194.7,204.9 198.6,205.2 203.4,203.6 208.0,201.2 212.8,198.0 216.8,197.3 219.9,194.0 222.3,193.3 225.4,195.0 229.4,197.3 232.5,196.5 236.5,200.4 240.4,203.6 244.4,208.3 248.3,213.0 252.2,215.4 257.0,217.0 263.3,217.5" fill="none" stroke="#a83cc0" stroke-width="1.25" stroke-linejoin="round" stroke-opacity="1"/>
<polyline points="46.3,157.0 49.9,149.0 53.8,112.0 55.2,120.0 57.8,141.0 61.7,130.5 64.4,109.5 68.3,93.7 71.0,80.5 73.6,64.7 76.2,46.3 78.3,37.1 80.2,46.3 82.8,51.6 84.4,50.2 86.4,63.7 87.6,70.0 89.6,73.1 90.8,79.5 93.1,84.2 94.7,87.4 96.3,100.0 98.6,117.4 101.2,133.0 105.2,162.0 107.8,178.0 110.4,188.4 113.8,195.4 117.7,203.0 120.8,207.7 125.4,209.2 128.5,208.5 130.8,201.5 133.0,193.8 135.4,189.2 138.5,186.2 141.5,184.6 144.6,186.2 147.7,193.8 151.5,201.5 155.4,207.7 160.8,210.8 165.4,212.3 171.5,214.6 177.7,216.2 190.0,216.8 210.0,217.5" fill="none" stroke="#8c4422" stroke-width="1.25" stroke-linejoin="round" stroke-opacity="1"/>
<polyline points="46.0,128.0 47.3,130.5 48.6,130.5 51.2,122.6 53.0,124.0 56.5,125.0 59.1,120.0 63.0,106.8 67.0,93.7 69.6,99.0 72.3,104.0 74.9,91.0 77.5,72.6 80.2,46.3 81.5,45.0 82.8,51.6 84.5,51.8 86.0,62.0 87.6,71.6 89.2,75.5 90.4,81.0 90.8,90.0 91.1,103.5 92.5,117.0 93.8,122.3 95.9,127.7 97.9,143.8 99.9,152.0 101.9,154.6 103.3,160.0 105.2,162.0 110.4,167.4 115.7,171.0 120.8,178.5 123.8,184.6 126.9,183.0 129.2,182.3 132.3,186.0 134.6,190.8 136.9,189.2 140.0,184.6 142.3,183.0 145.4,183.0 147.7,187.7 150.8,195.4 154.6,200.0 159.2,203.0 163.8,206.2 168.5,208.5 173.0,207.7 177.7,204.6 182.3,203.8 186.9,200.0 189.2,198.0 192.3,198.9 195.5,196.5 200.2,195.0 203.4,192.6 206.5,190.2 209.7,191.8 212.8,181.5 215.2,180.7 218.3,183.0 220.7,180.7 223.9,173.6 227.0,174.4 229.4,168.0 231.7,165.7 234.1,168.9 236.5,178.4 239.6,182.3 242.8,189.4 246.0,194.0 249.0,200.4 252.2,205.2 255.4,208.3 258.6,211.5 261.7,214.6 264.9,216.2 266.0,217.0" fill="none" stroke="#e03838" stroke-width="1.25" stroke-linejoin="round" stroke-opacity="1"/>
<polyline points="297.0,196.0 300.0,208.5 303.2,208.5 306.3,205.4 309.4,199.2 312.5,191.5 315.5,187.0 318.6,177.7 321.0,174.6 323.2,176.0 325.5,168.5 327.8,154.6 329.4,140.8 331.0,125.4 331.7,110.0 333.2,81.5 334.8,69.2 336.3,63.0 338.6,60.0 340.0,43.0 342.0,36.2 343.2,41.5 345.5,43.0 347.8,47.7 350.2,55.4 351.7,61.5 353.2,70.8 355.5,81.5 357.0,89.2 359.4,97.0 361.7,106.0 364.0,128.5 367.0,140.8 369.4,153.0 371.7,165.4 374.8,174.6 377.8,182.3 381.0,190.0 383.2,197.7 386.3,202.3 390.2,207.0 394.8,211.5 399.4,213.8 405.5,214.6 420.0,215.5" fill="none" stroke="#a8d2f0" stroke-width="1.25" stroke-linejoin="round" stroke-opacity="1"/>
<polyline points="297.0,147.0 298.5,165.0 300.0,184.0 301.7,188.5 304.0,179.0 306.3,168.5 308.6,156.0 310.0,144.0 311.7,133.0 313.2,125.4 314.8,122.3 317.0,119.0 318.6,113.0 320.2,106.0 322.5,95.4 324.8,87.7 327.0,75.4 329.4,72.3 331.7,70.0 333.2,75.4 334.8,87.7 336.3,95.4 338.6,86.0 341.0,83.0 343.2,83.0 345.5,90.8 347.0,97.0 349.4,93.8 351.7,97.0 354.0,106.0 356.3,108.5 358.6,106.0 361.7,107.7 364.8,110.8 365.5,117.7 368.6,122.3 371.7,123.8 374.8,125.4 377.8,127.0 380.2,131.5 382.5,137.7 384.8,147.0 387.8,154.6 391.0,165.4 393.2,174.6 396.3,183.8 400.2,191.5 404.0,197.7 408.6,202.3 413.2,207.0 417.8,210.8 422.5,213.0 428.6,214.6 434.8,215.0 445.0,215.5" fill="none" stroke="#3a68c4" stroke-width="1.25" stroke-linejoin="round" stroke-opacity="1"/>
<polyline points="297.0,160.0 299.0,180.0 301.7,189.0 305.5,174.6 307.8,162.3 311.0,148.5 313.2,142.3 314.8,140.8 316.3,133.0 317.8,127.0 319.4,119.2 321.0,120.0 322.5,127.0 324.0,130.0 326.3,127.0 328.6,119.2 331.0,104.6 333.2,103.8 335.5,103.0 337.8,98.5 340.0,95.4 341.7,98.5 344.0,109.2 346.3,114.6 347.8,119.2 350.2,119.2 352.5,128.5 354.0,134.6 356.3,137.0 358.6,137.7 361.0,139.2 363.2,140.0 364.0,136.2 367.0,130.0 370.2,123.8 373.2,133.0 376.3,125.4 378.6,97.0 380.2,87.7 381.7,92.3 383.2,106.0 384.8,120.0 388.6,125.4 390.2,140.8 391.7,159.2 393.2,174.6 396.3,185.4 401.0,193.0 405.5,199.2 410.2,203.8 414.8,207.7 419.4,210.8 425.5,213.0 433.2,213.8 439.4,214.6 450.0,215.5" fill="none" stroke="#48c848" stroke-width="1.25" stroke-linejoin="round" stroke-opacity="1"/>
<polyline points="297.0,208.5 300.0,211.5 303.2,212.3 306.3,211.5 309.4,209.2 312.5,207.0 314.8,202.3 317.0,196.0 319.4,187.0 321.7,179.2 324.8,176.0 327.8,171.5 331.0,168.5 334.0,162.3 336.3,160.8 338.6,162.3 341.0,157.7 343.2,151.5 345.5,145.4 347.8,142.3 349.4,134.6 351.7,125.4 353.2,117.7 354.8,110.0 356.3,101.5 357.5,97.0 359.4,106.0 362.5,100.0 365.5,109.2 368.6,103.0 370.2,101.5 371.7,106.0 374.0,113.8 376.3,109.2 378.6,101.5 381.0,84.6 382.5,67.7 384.0,63.8 385.5,55.4 387.0,43.0 388.6,37.7 390.2,43.0 391.7,58.5 393.2,77.0 394.8,93.8 396.3,109.2 397.8,125.4 400.2,140.8 402.5,156.2 404.8,168.5 407.0,177.7 410.2,187.0 413.2,193.0 416.3,199.2 419.4,205.4 422.5,210.0 425.5,213.0 430.2,214.6 440.0,215.5" fill="none" stroke="#8c4422" stroke-width="1.25" stroke-linejoin="round" stroke-opacity="1"/>
<polyline points="297.0,193.0 300.0,202.3 302.5,202.3 304.8,197.7 307.0,191.5 309.4,182.3 311.7,174.6 314.0,168.5 315.5,160.8 318.6,156.0 321.0,151.5 324.0,148.5 327.0,145.4 329.4,137.7 331.7,131.5 334.0,123.8 336.3,116.0 337.8,110.0 340.0,101.5 342.0,105.0 344.8,109.2 347.8,92.3 351.0,89.2 353.2,80.8 355.5,80.8 357.0,83.0 358.6,92.3 361.0,97.0 363.2,103.0 364.0,116.0 367.0,119.2 370.2,123.8 373.2,122.3 376.3,119.2 379.4,117.7 381.7,120.8 384.0,122.3 386.3,114.6 388.6,119.2 390.2,127.0 392.5,122.3 394.8,119.2 397.0,116.0 400.2,119.2 402.5,123.0 405.5,120.8 407.8,117.7 410.2,119.2 413.2,116.0 414.8,112.3 416.3,97.0 418.6,90.8 421.7,84.6 424.0,81.5 426.3,72.3 428.6,58.5 430.2,50.8 431.7,50.0 433.2,53.0 434.8,51.5 437.0,50.8 438.6,50.0 440.2,55.4 441.7,63.0 443.2,61.5 444.3,60.8 445.5,66.0 447.0,78.5 448.6,81.5 450.2,90.8 451.7,100.0 453.0,107.9 455.3,123.7 457.7,139.5 460.0,155.3 462.4,171.0 464.8,182.1 467.2,198.0 470.3,205.8 475.0,210.6 479.8,213.7 490.0,215.5" fill="none" stroke="#a83cc0" stroke-width="1.25" stroke-linejoin="round" stroke-opacity="1"/>
<polyline points="297.0,190.0 300.0,200.0 302.5,202.0 304.8,197.7 307.0,191.5 309.4,182.3 311.7,174.6 314.0,168.5 316.3,163.8 317.8,167.0 319.4,170.0 321.7,171.5 324.0,168.5 326.3,163.8 328.6,159.2 331.0,156.0 333.2,153.0 335.5,148.5 337.8,140.8 340.0,133.0 341.7,120.0 344.8,109.2 347.0,93.8 348.6,81.5 350.2,66.0 351.0,60.0 352.5,63.0 354.0,67.7 355.5,69.2 357.0,78.5 358.6,89.2 360.2,98.5 361.7,100.0 364.0,103.0 365.5,122.3 368.6,133.0 371.7,140.8 374.0,148.5 376.3,151.5 379.4,154.6 382.5,157.7 384.8,165.4 386.3,167.7 387.8,160.8 390.2,154.6 392.5,157.7 394.8,160.8 397.0,154.6 399.4,154.6 401.7,159.2 404.0,163.0 407.0,161.5 410.2,160.8 413.2,160.0 417.0,160.8 421.0,160.8 423.2,156.2 425.5,150.0 427.8,143.8 430.2,140.8 432.5,136.2 434.0,134.0 436.4,136.3 438.7,131.6 441.1,117.4 443.5,115.8 445.8,117.4 449.0,113.4 451.4,112.6 453.0,108.7 456.1,109.5 458.5,111.8 460.9,117.4 463.2,119.7 466.4,115.8 468.8,119.0 471.1,131.6 473.5,147.4 475.9,163.2 478.2,179.0 480.6,191.6 483.0,202.7 485.3,209.0 488.5,212.2 494.0,213.7 500.0,215.5" fill="none" stroke="#e03838" stroke-width="1.25" stroke-linejoin="round" stroke-opacity="1"/>
<line x1="53.3" y1="515" x2="53.3" y2="523" stroke="#c81010" stroke-width="3.2"/>
<polyline points="57.7,703.9 58.0,704.2 58.2,703.9 58.5,704.1 58.7,704.0 59.0,703.3 59.2,703.2 59.5,704.0 59.7,703.3 60.0,703.2 60.2,703.9 60.5,703.3 60.7,703.6 61.0,703.1 61.2,703.2 61.5,702.6 61.7,703.0 62.0,703.2 62.2,702.8 62.5,702.9 62.7,702.7 63.0,702.0 63.2,702.7 63.5,702.4 63.7,702.0 64.0,701.6 64.2,702.5 64.5,702.0 64.7,702.1 65.0,702.2 65.2,702.0 65.5,702.1 65.7,701.5 66.0,701.8 66.2,701.3 66.5,701.8 66.7,701.7 67.0,700.7 67.2,700.7 67.5,700.7 67.7,701.4 68.0,700.7 68.2,700.9 68.5,700.4 68.7,700.6 69.0,700.4 69.2,700.2 69.5,700.3 69.7,700.2 70.0,700.4 70.2,699.9 70.5,700.1 70.7,699.8 71.0,699.8 71.2,699.3 71.5,698.5 71.7,699.2 72.0,699.1 72.2,698.9 72.5,698.3 72.7,698.3 73.0,697.5 73.2,698.1 73.5,697.6 73.7,697.1 74.0,696.7 74.2,697.5 74.5,697.5 74.7,696.2 75.0,696.9 75.2,696.3 75.5,695.8 75.7,695.9 76.0,696.4 76.2,696.4 76.5,695.2 76.7,695.8 77.0,694.9 77.2,695.7 77.5,695.1 77.7,695.6 78.0,695.6 78.2,694.9 78.5,695.4 78.7,694.4 79.0,693.6 79.2,694.0 79.5,692.5 79.7,692.3 80.0,692.1 80.2,692.0 80.5,690.7 80.7,690.0 81.0,690.9 81.2,689.5 81.5,690.1 81.7,689.5 82.0,688.1 82.2,687.7 82.5,687.3 82.7,687.1 83.0,686.5 83.2,685.9 83.5,685.5 83.7,685.6 84.0,684.3 84.2,683.7 84.5,683.7 84.7,682.4 85.0,682.2 85.2,683.1 85.5,681.9 85.7,681.6 86.0,680.4 86.2,680.8 86.5,680.7 86.7,679.4 87.0,680.1 87.2,679.8 87.5,678.5 87.7,679.2 88.0,678.5 88.2,678.6 88.5,677.7 88.7,678.0 89.0,677.7 89.2,676.1 89.5,675.8 89.7,676.7 90.0,676.9 90.2,675.2 90.5,675.2 90.7,674.8 91.0,673.5 91.2,673.0 91.5,672.2 91.7,671.6 92.0,671.5 92.2,670.1 92.5,669.7 92.7,670.0 93.0,667.5 93.2,668.1 93.5,667.9 93.7,666.2 94.0,665.3 94.2,666.1 94.5,664.0 94.7,663.2 95.0,663.2 95.2,663.2 95.5,660.9 95.7,660.9 96.0,660.2 96.2,660.9 96.5,659.3 96.7,659.8 97.0,657.6 97.2,657.5 97.5,657.8 97.7,657.9 98.0,656.3 98.2,655.2 98.5,654.4 98.7,654.9 99.0,653.5 99.2,654.6 99.5,654.1 99.7,651.8 100.0,651.4 100.2,652.3 100.5,651.3 100.7,651.2 101.0,649.3 101.2,648.2 101.5,648.0 101.7,649.6 102.0,648.7 102.2,649.3 102.5,649.9 102.7,650.3 103.0,650.7 103.2,652.3 103.5,650.9 103.7,650.9 104.0,654.0 104.2,654.4 104.5,655.4 104.7,654.5 105.0,656.6 105.2,657.2 105.5,655.9 105.7,658.0 106.0,658.9 106.2,659.1 106.5,659.4 106.7,659.4 107.0,660.1 107.2,660.3 107.5,660.5 107.7,662.2 108.0,662.0 108.2,663.7 108.5,662.4 108.7,665.0 109.0,665.0 109.2,666.0 109.5,666.4 109.7,666.7 110.0,666.3 110.2,665.4 110.5,667.1 110.7,666.3 111.0,666.8 111.2,667.7 111.5,667.7 111.7,667.7 112.0,669.0 112.2,668.6 112.5,668.3 112.7,668.3 113.0,669.5 113.2,668.9 113.5,669.5 113.7,668.8 114.0,668.6 114.2,669.3 114.5,669.8 114.7,668.8 115.0,670.0 115.2,670.3 115.5,670.1 115.7,670.0 116.0,668.3 116.2,669.3 116.5,669.6 116.7,667.9 117.0,668.2 117.2,668.0 117.5,668.3 117.7,668.0 118.0,667.9 118.2,668.3 118.5,666.5 118.7,666.2 119.0,666.0 119.2,665.7 119.5,665.2 119.7,666.8 120.0,666.2 120.2,664.3 120.5,664.8 120.7,664.1 121.0,663.7 121.2,663.5 121.5,663.6 121.7,663.0 122.0,661.9 122.2,661.0 122.5,660.8 122.7,659.8 123.0,660.3 123.2,660.2 123.5,658.8 123.7,657.6 124.0,657.3 124.2,657.1 124.5,657.1 124.7,656.9 125.0,655.2 125.2,655.7 125.5,654.5 125.7,653.4 126.0,652.5 126.2,652.2 126.5,652.2 126.7,650.7 127.0,650.8 127.2,649.5 127.5,648.2 127.7,648.4 128.0,648.2 128.2,645.7 128.4,646.1 128.7,645.4 128.9,646.1 129.2,645.6 129.4,643.3 129.7,644.2 129.9,643.2 130.2,640.9 130.4,640.9 130.7,639.2 130.9,640.6 131.2,639.5 131.4,639.5 131.7,638.6 131.9,637.5 132.2,637.1 132.4,635.9 132.7,633.7 132.9,634.8 133.2,632.6 133.4,632.5 133.7,633.8 133.9,631.2 134.2,630.8 134.4,630.3 134.7,632.1 134.9,629.6 135.2,628.6 135.4,630.5 135.7,627.7 135.9,629.4 136.2,628.2 136.4,628.0 136.7,627.8 136.9,625.9 137.2,625.9 137.4,622.7 137.7,624.5 137.9,623.0 138.2,623.0 138.4,620.3 138.7,621.8 138.9,621.8 139.2,618.1 139.4,618.3 139.7,618.4 139.9,618.7 140.2,615.9 140.4,615.0 140.7,614.6 140.9,615.2 141.2,615.0 141.4,612.5 141.7,611.1 141.9,609.9 142.2,608.3 142.4,607.4 142.7,604.4 142.9,605.1 143.2,606.2 143.4,602.6 143.7,603.2 143.9,600.3 144.2,601.6 144.4,601.2 144.7,600.3 144.9,599.0 145.2,598.2 145.4,598.2 145.7,598.5 145.9,595.0 146.2,594.1 146.4,595.9 146.7,595.9 146.9,593.7 147.2,592.8 147.4,593.2 147.7,590.5 147.9,590.1 148.2,589.2 148.4,590.0 148.7,588.3 148.9,587.3 149.2,588.4 149.4,588.8 149.7,585.5 149.9,586.5 150.2,584.7 150.4,585.7 150.7,584.0 150.9,582.1 151.2,581.2 151.4,579.8 151.7,580.9 151.9,579.9 152.2,578.4 152.4,578.4 152.7,577.6 152.9,578.8 153.2,575.6 153.4,578.3 153.7,575.9 153.9,575.8 154.2,574.8 154.4,575.7 154.7,575.1 154.9,573.6 155.2,572.8 155.4,573.2 155.7,573.2 155.9,571.0 156.2,571.7 156.4,571.9 156.7,569.8 156.9,568.6 157.2,568.3 157.4,569.6 157.7,569.1 157.9,569.7 158.2,568.9 158.4,566.4 158.7,566.0 158.9,566.0 159.2,565.5 159.4,566.9 159.7,567.2 159.9,567.0 160.2,564.8 160.4,566.5 160.7,564.5 160.9,564.6 161.2,565.3 161.4,563.0 161.7,562.8 161.9,565.1 162.2,562.5 162.4,562.3 162.7,562.6 162.9,562.5 163.2,559.4 163.4,560.2 163.7,560.1 163.9,559.7 164.2,558.2 164.4,559.1 164.7,560.0 164.9,557.3 165.2,557.4 165.4,555.3 165.7,555.4 165.9,556.4 166.2,553.7 166.4,556.2 166.7,555.8 166.9,552.7 167.2,556.5 167.4,554.8 167.7,556.9 167.9,557.3 168.2,556.0 168.4,558.0 168.7,558.4 168.9,559.5 169.2,558.0 169.4,561.8 169.7,564.0 169.9,563.6 170.2,564.0 170.4,562.8 170.7,566.0 170.9,564.6 171.2,565.5 171.4,564.6 171.7,563.3 171.9,560.9 172.2,562.2 172.4,561.4 172.7,558.7 172.9,561.1 173.2,560.7 173.4,559.2 173.7,562.7 173.9,560.2 174.2,561.5 174.4,563.4 174.7,563.5 174.9,563.8 175.2,564.5 175.4,564.1 175.7,563.9 175.9,563.7 176.2,563.6 176.4,565.9 176.7,566.3 176.9,565.8 177.2,566.7 177.4,565.7 177.7,565.7 177.9,566.3 178.2,568.1 178.4,565.6 178.7,567.6 178.9,567.1 179.2,569.2 179.4,568.2 179.7,568.5 179.9,569.1 180.2,569.9 180.4,571.1 180.7,570.1 180.9,572.7 181.2,570.4 181.4,571.6 181.7,571.6 181.9,572.3 182.2,575.6 182.4,576.0 182.7,574.5 182.9,575.2 183.2,575.8 183.4,576.6 183.7,576.8 183.9,576.6 184.2,576.2 184.4,575.1 184.7,575.7 184.9,575.2 185.2,575.8 185.4,575.5 185.7,573.8 185.9,573.6 186.2,575.0 186.4,572.0 186.7,574.3 186.9,574.2 187.2,574.0 187.4,571.5 187.7,571.7 187.9,571.3 188.2,571.0 188.4,571.8 188.7,570.2 188.9,568.4 189.2,569.9 189.4,568.1 189.7,568.0 189.9,568.0 190.2,563.5 190.4,566.5 190.7,564.7 190.9,562.6 191.2,561.6 191.4,560.1 191.7,557.5 191.9,558.2 192.2,554.3 192.4,555.7 192.7,555.4 192.9,553.3 193.2,553.0 193.4,554.0 193.7,552.7 193.9,547.8 194.2,550.2 194.4,548.3 194.7,544.3 194.9,545.0 195.2,543.3 195.4,541.4 195.7,542.9 195.9,544.0 196.2,539.7 196.4,541.6 196.7,539.7 196.9,535.6 197.2,538.6 197.4,536.2 197.7,536.9 197.9,534.8 198.2,534.0 198.4,530.9 198.7,532.4 198.9,532.1 199.2,530.8 199.4,528.0 199.7,528.9 199.9,527.2 200.2,525.2 200.4,524.4 200.7,524.0 200.9,524.0 201.2,523.4 201.4,524.5 201.7,526.1 201.9,525.9 202.2,526.0 202.4,527.7 202.7,526.8 202.9,528.1 203.2,530.1 203.4,529.1 203.7,528.6 203.9,533.2 204.2,533.1 204.4,532.2 204.7,533.0 204.9,534.7 205.2,535.9 205.4,534.9 205.7,534.7 205.9,536.7 206.2,543.7 206.4,541.2 206.7,546.2 206.9,546.6 207.2,549.3 207.4,551.5 207.7,555.8 207.9,556.5 208.2,557.8 208.4,560.7 208.7,563.4 208.9,568.0 209.2,567.1 209.4,569.1 209.7,574.4 209.9,577.6 210.2,583.1 210.4,582.0 210.7,587.9 210.9,591.3 211.2,592.3 211.4,602.0 211.7,600.8 211.9,603.7 212.2,609.8 212.4,611.5 212.7,618.0 212.9,619.0 213.2,619.8 213.4,621.5 213.7,627.5 213.9,627.0 214.2,632.0 214.4,632.3 214.7,636.9 214.9,635.6 215.2,637.4 215.4,639.6 215.7,644.5 215.9,645.6 216.2,646.1 216.4,646.8 216.7,651.8 216.9,655.1 217.2,655.3 217.4,654.5 217.7,656.6 217.9,659.1 218.2,661.0 218.4,662.1 218.7,663.7 218.9,667.6 219.2,670.0 219.4,669.1 219.7,673.4 219.9,673.2 220.2,675.0 220.4,676.2 220.7,677.0 220.9,675.6 221.2,677.1 221.4,678.7 221.7,680.3 221.9,679.1 222.2,680.4 222.4,682.6 222.7,681.7 222.9,683.2 223.2,683.9 223.4,685.4 223.7,686.5 223.9,685.7 224.2,687.5 224.4,688.1 224.7,688.9 224.9,689.1 225.2,690.4 225.4,690.0 225.7,690.8 225.9,691.1 226.2,692.8 226.4,692.9 226.7,693.1 226.9,693.3 227.2,694.6 227.4,694.8 227.7,695.3 227.9,695.2 228.2,695.7 228.4,695.6 228.7,696.8 228.9,696.2 229.2,697.2 229.4,698.0 229.7,698.3 229.9,697.8 230.2,698.4 230.4,699.6 230.7,699.7 230.9,700.4 231.2,700.6 231.4,700.3 231.7,701.0 231.9,701.0 232.2,700.7 232.4,701.0 232.7,700.8 232.9,701.4 233.2,702.2 233.4,701.5 233.7,702.2 233.9,701.9 234.2,702.0 234.4,702.9 234.7,702.6 234.9,702.6 235.2,702.9 235.4,703.6 235.7,703.8 235.9,703.3 236.2,703.8 236.4,704.8 236.7,704.1 236.9,704.5 237.2,704.5 237.4,705.0 237.7,704.9 237.9,705.2 238.2,705.0 238.4,704.8 238.7,704.9 238.9,704.9 239.2,705.7 239.4,705.1 239.7,705.1 239.9,706.1 240.2,705.5 240.4,706.3 240.7,705.6 240.9,706.0 241.2,705.9 241.4,706.6 241.7,706.5 241.9,706.6 242.2,706.8 242.4,707.0 242.7,706.6 242.9,707.0 243.2,706.9 243.4,706.7 243.7,707.5 243.9,707.4 244.2,707.7 244.4,707.2 244.7,707.6 244.9,707.6 245.2,708.0 245.4,707.5 245.7,707.8 245.9,708.1 246.2,707.8 246.4,708.3 246.7,708.6 246.9,708.4 247.2,708.7 247.4,708.8 247.7,708.0 247.9,707.6 248.2,707.8 248.4,706.5 248.7,706.1 248.9,705.2 249.2,704.8 249.4,704.2 249.7,704.9 249.9,705.1 250.2,705.6 250.4,706.1 250.7,706.1 250.9,706.8 251.2,706.7 251.4,707.0 251.7,707.9 251.9,708.3 252.2,708.8 252.4,708.8 252.7,709.5 252.9,709.6 253.0,709.8" fill="none" stroke="#d40c0c" stroke-width="2.2" stroke-linejoin="round" stroke-opacity="1"/>
<polyline points="55.8,705.7 56.0,705.5 56.3,705.7 56.5,705.3 56.8,705.1 57.0,705.3 57.3,705.8 57.5,705.5 57.8,705.3 58.0,704.6 58.3,704.9 58.5,704.4 58.8,704.2 59.0,704.0 59.3,704.0 59.5,704.7 59.8,704.5 60.0,704.3 60.3,704.2 60.5,703.4 60.8,703.4 61.0,703.6 61.3,703.6 61.5,703.7 61.8,703.6 62.0,702.5 62.3,703.0 62.5,703.0 62.8,702.6 63.0,702.1 63.3,702.4 63.5,701.8 63.8,702.7 64.0,702.5 64.3,702.0 64.5,701.5 64.8,702.2 65.0,701.6 65.3,701.9 65.5,701.7 65.8,701.2 66.0,700.9 66.3,701.0 66.5,700.7 66.8,700.2 67.0,700.3 67.3,700.8 67.5,699.5 67.8,699.2 68.0,699.8 68.3,699.1 68.5,699.2 68.8,698.9 69.0,698.4 69.3,699.1 69.5,697.7 69.8,697.8 70.0,697.2 70.3,697.6 70.5,696.8 70.8,696.7 71.0,697.0 71.3,696.1 71.5,696.2 71.8,696.5 72.0,695.0 72.3,694.7 72.5,694.7 72.8,695.3 73.0,694.8 73.3,694.0 73.5,693.9 73.8,693.4 74.0,693.6 74.3,692.6 74.5,693.5 74.8,693.6 75.0,693.5 75.3,692.7 75.5,692.7 75.8,690.6 76.0,690.7 76.3,691.6 76.5,690.9 76.8,689.8 77.0,690.5 77.3,689.5 77.5,689.5 77.8,688.1 78.0,687.5 78.3,687.6 78.5,686.6 78.8,686.8 79.0,687.5 79.3,685.6 79.5,684.4 79.8,684.0 80.0,683.7 80.3,684.7 80.5,683.2 80.8,682.5 81.0,681.6 81.3,683.1 81.5,681.3 81.8,679.9 82.0,678.5 82.3,677.5 82.5,676.9 82.8,677.5 83.0,674.9 83.3,673.5 83.5,674.0 83.8,672.2 84.0,673.8 84.3,669.7 84.5,670.2 84.8,670.0 85.0,667.7 85.3,668.8 85.5,665.9 85.8,664.3 86.0,664.1 86.3,662.1 86.5,662.6 86.8,661.3 87.0,662.7 87.3,661.7 87.5,659.8 87.8,656.9 88.0,656.8 88.3,655.7 88.5,654.6 88.8,653.6 89.0,655.2 89.3,651.2 89.5,649.8 89.8,652.5 90.0,649.9 90.3,650.7 90.5,647.2 90.8,648.4 91.0,646.3 91.3,645.9 91.5,644.7 91.8,642.7 92.0,640.0 92.3,639.5 92.5,641.5 92.8,640.7 93.0,639.8 93.3,636.3 93.5,636.7 93.8,636.3 94.0,634.6 94.3,634.4 94.5,632.0 94.8,631.6 95.0,630.7 95.3,627.7 95.5,629.8 95.8,629.0 96.0,623.7 96.3,627.1 96.5,626.0 96.8,623.6 97.0,619.4 97.3,622.7 97.5,617.8 97.8,621.0 98.0,618.5 98.3,614.4 98.5,613.9 98.8,615.3 99.0,613.7 99.3,611.8 99.5,610.0 99.8,601.1 100.0,596.3 100.3,602.4 100.5,593.0 100.8,598.7 101.0,590.5 101.3,594.8 101.5,593.0 101.8,592.1 102.0,587.6 102.3,588.9 102.5,581.2 102.8,583.7 103.0,579.4 103.3,582.6 103.5,580.4 103.8,576.8 104.0,576.0 104.3,570.7 104.5,569.5 104.8,572.8 105.0,571.1 105.3,572.8 105.5,570.4 105.8,566.4 106.0,567.1 106.3,569.1 106.5,566.6 106.8,560.8 107.0,566.4 107.3,564.4 107.5,555.9 107.8,558.4 108.0,555.7 108.3,557.9 108.5,552.6 108.8,550.6 109.0,551.5 109.3,554.3 109.5,545.6 109.8,544.5 110.0,547.6 110.3,548.6 110.5,544.1 110.8,542.2 111.0,544.6 111.3,542.6 111.5,535.0 111.8,540.9 112.0,533.3 112.3,532.8 112.5,536.2 112.8,531.0 113.0,533.0 113.3,525.9 113.5,530.9 113.8,526.3 114.0,527.1 114.3,530.9 114.5,530.7 114.8,533.3 115.0,537.2 115.3,536.7 115.5,532.4 115.8,535.3 116.0,537.6 116.3,538.0 116.5,540.3 116.8,539.4 117.0,537.3 117.3,539.2 117.5,542.6 117.8,539.1 118.0,541.2 118.3,542.0 118.5,539.3 118.8,539.2 119.0,538.3 119.3,536.2 119.5,543.0 119.8,540.5 120.0,545.9 120.3,541.9 120.5,548.4 120.8,549.1 121.0,549.0 121.3,548.7 121.5,547.4 121.8,552.6 122.0,550.6 122.3,553.5 122.5,550.6 122.8,551.0 123.0,552.9 123.3,556.3 123.5,553.4 123.8,557.1 124.0,554.6 124.3,555.8 124.5,554.9 124.8,556.3 125.0,553.9 125.3,555.6 125.5,558.3 125.8,554.8 126.0,557.7 126.3,556.2 126.5,556.8 126.8,555.7 127.0,556.5 127.3,563.5 127.5,563.4 127.8,564.0 128.1,566.3 128.3,569.6 128.6,564.5 128.8,570.4 129.1,571.6 129.3,574.3 129.6,579.6 129.8,580.0 130.1,582.1 130.3,577.7 130.6,582.5 130.8,583.9 131.1,585.6 131.3,586.0 131.6,588.7 131.8,586.5 132.1,591.6 132.3,589.5 132.6,591.9 132.8,594.8 133.1,594.8 133.3,593.6 133.6,594.3 133.8,596.0 134.1,599.0 134.3,602.3 134.6,602.9 134.8,601.2 135.1,602.4 135.3,606.1 135.6,604.1 135.8,606.1 136.1,605.0 136.3,607.2 136.6,610.3 136.8,611.4 137.1,611.6 137.3,611.1 137.6,613.9 137.8,613.1 138.1,611.8 138.3,611.9 138.6,615.9 138.8,616.5 139.1,616.7 139.3,616.0 139.6,615.4 139.8,614.9 140.1,615.8 140.3,616.0 140.6,618.8 140.8,619.0 141.1,618.9 141.3,617.1 141.6,617.7 141.8,618.3 142.1,620.8 142.3,618.5 142.6,620.6 142.8,620.5 143.1,620.2 143.3,621.6 143.6,619.7 143.8,620.7 144.1,619.7 144.3,619.7 144.6,619.7 144.8,620.7 145.1,620.3 145.3,620.1 145.6,622.7 145.8,620.5 146.1,622.1 146.3,621.3 146.6,621.3 146.8,620.9 147.1,621.6 147.3,621.2 147.6,620.6 147.8,619.9 148.1,620.2 148.3,619.9 148.6,618.8 148.8,618.2 149.1,616.5 149.3,618.6 149.6,616.9 149.8,614.9 150.1,614.8 150.3,617.0 150.6,614.3 150.8,614.3 151.1,614.9 151.3,615.3 151.6,613.7 151.8,613.8 152.1,613.8 152.3,612.6 152.6,614.9 152.8,612.4 153.1,615.0 153.3,612.6 153.6,612.6 153.8,614.4 154.1,614.3 154.3,612.5 154.6,613.4 154.8,613.0 155.1,613.6 155.3,612.1 155.6,613.8 155.8,614.2 156.1,613.3 156.3,613.8 156.6,613.8 156.8,612.1 157.1,613.3 157.3,613.2 157.6,612.4 157.8,611.0 158.1,612.4 158.3,613.1 158.6,611.3 158.8,612.2 159.1,612.8 159.3,611.9 159.6,610.2 159.8,611.8 160.1,610.7 160.3,612.3 160.6,611.6 160.8,610.5 161.1,612.1 161.3,611.3 161.6,610.4 161.8,611.7 162.1,611.8 162.3,611.7 162.6,611.6 162.8,610.9 163.1,610.9 163.3,610.6 163.6,610.3 163.8,611.5 164.1,609.6 164.3,608.3 164.6,610.2 164.8,609.2 165.1,609.0 165.3,608.9 165.6,607.4 165.8,607.0 166.1,606.2 166.3,608.4 166.6,608.5 166.8,607.5 167.1,605.2 167.3,607.9 167.6,607.1 167.8,605.7 168.1,603.9 168.3,607.3 168.6,606.9 168.8,607.2 169.1,605.4 169.3,608.4 169.6,606.2 169.8,608.1 170.1,607.3 170.3,608.4 170.6,610.7 170.8,610.6 171.1,611.2 171.3,609.7 171.6,610.3 171.8,611.5 172.1,609.8 172.3,611.6 172.6,614.1 172.8,613.7 173.1,614.5 173.3,612.9 173.6,614.7 173.8,615.5 174.1,615.6 174.3,615.0 174.6,614.5 174.8,614.3 175.1,617.9 175.3,618.7 175.6,616.6 175.8,619.0 176.1,618.1 176.3,619.5 176.6,620.8 176.8,619.3 177.1,621.0 177.3,620.1 177.6,621.5 177.8,620.2 178.1,621.6 178.3,622.2 178.6,625.6 178.8,622.9 179.1,626.5 179.3,624.3 179.6,629.1 179.8,626.4 180.1,626.9 180.3,628.2 180.6,632.2 180.8,631.9 181.1,633.6 181.3,632.8 181.6,632.0 181.8,633.8 182.1,635.3 182.3,638.7 182.6,636.0 182.8,637.3 183.1,641.0 183.3,638.8 183.6,643.6 183.8,641.6 184.1,643.8 184.3,645.2 184.6,647.3 184.8,644.7 185.1,649.0 185.3,647.2 185.6,650.5 185.8,648.6 186.1,652.7 186.3,651.3 186.6,652.4 186.8,652.8 187.1,655.0 187.3,656.0 187.6,659.7 187.8,659.2 188.1,659.3 188.3,662.9 188.6,660.7 188.8,662.0 189.1,666.2 189.3,667.3 189.6,667.4 189.8,669.7 190.1,667.3 190.3,671.7 190.6,672.1 190.8,673.2 191.1,675.0 191.3,673.4 191.6,675.0 191.8,675.8 192.1,677.9 192.3,679.1 192.6,680.1 192.8,680.6 193.1,682.7 193.3,684.0 193.6,684.8 193.8,683.7 194.1,685.0 194.3,686.2 194.6,687.3 194.8,689.2 195.1,689.0 195.3,690.6 195.6,690.6 195.8,691.3 196.1,692.7 196.3,693.9 196.6,693.0 196.8,694.0 197.1,695.9 197.3,695.0 197.6,695.3 197.8,696.3 198.1,698.2 198.3,698.5 198.6,699.4 198.8,699.1 199.1,698.8 199.3,699.8 199.6,701.0 199.8,700.9 200.1,701.0 200.3,701.9 200.6,702.5 200.8,702.9 201.1,703.5 201.3,703.6 201.6,703.9 201.8,705.0 202.1,705.2 202.3,705.1 202.6,705.0 202.8,705.5 203.1,706.0 203.3,706.6 203.6,706.4 203.8,707.2 204.1,707.0 204.3,706.9 204.6,707.6 204.8,707.8 205.1,708.1 205.3,708.4 205.6,708.0 205.8,708.6 206.1,709.0 206.3,708.5 206.6,708.5 206.8,708.7 207.1,708.8 207.3,709.0 207.6,709.0 207.8,709.3 208.1,709.0 208.3,709.2 208.6,709.6 208.8,709.5 209.1,709.9 209.3,710.0 209.6,709.5 209.8,709.6 210.1,709.8 210.3,709.9 210.6,709.8 210.8,710.3 211.1,709.8 211.3,710.1 211.6,709.9 211.8,710.5 212.1,710.4 212.3,710.7 212.6,710.2 212.8,710.6 213.1,710.5 213.3,710.1 213.6,710.7 213.8,710.8 214.1,710.2 214.3,710.9 214.6,710.8 214.8,710.7 215.1,710.6 215.3,710.5 215.6,710.3 215.8,710.7 216.1,710.9 216.3,710.5 216.6,710.7 216.8,710.6 217.1,710.9 217.3,711.1 217.6,711.1 217.8,710.7 218.1,710.8 218.3,710.5 218.6,710.9 218.8,711.1 219.1,711.2 219.3,710.7 219.6,710.9 219.8,710.7 220.0,711.0" fill="none" stroke="#14cc14" stroke-width="2.2" stroke-linejoin="round" stroke-opacity="1"/>
<polyline points="53.2,523.0 53.2,711.0 54.6,711.0 55.4,698.0 55.9,690.0 56.6,711.0 57.3,696.0 58.7,692.7" fill="none" stroke="#0c0cc8" stroke-width="2.2" stroke-linejoin="round" stroke-opacity="1"/>
<polyline points="58.7,693.1 59.0,693.2 59.2,693.1 59.5,693.2 59.7,692.2 60.0,692.5 60.2,688.9 60.5,690.1 60.7,691.5 61.0,690.1 61.2,690.7 61.5,687.4 61.7,688.4 62.0,687.2 62.2,687.9 62.5,687.7 62.7,685.2 63.0,685.6 63.2,685.4 63.5,687.5 63.7,686.5 64.0,683.8 64.2,685.9 64.5,683.0 64.7,684.5 65.0,682.2 65.2,681.3 65.5,684.3 65.7,682.1 66.0,682.2 66.2,684.9 66.5,684.6 66.7,682.7 67.0,685.1 67.2,683.8 67.5,684.3 67.7,682.8 68.0,685.4 68.2,684.6 68.5,685.6 68.7,684.9 69.0,682.1 69.2,682.0 69.5,680.8 69.7,680.3 70.0,679.5 70.2,680.0 70.5,680.9 70.7,678.0 71.0,680.3 71.2,678.5 71.5,677.9 71.7,679.6 72.0,677.6 72.2,676.4 72.5,676.6 72.7,677.0 73.0,673.7 73.2,677.2 73.5,672.5 73.7,675.2 74.0,675.1 74.2,669.6 74.5,673.1 74.7,669.3 75.0,669.4 75.2,664.6 75.5,663.6 75.7,663.2 76.0,667.0 76.2,660.8 76.5,663.2 76.7,663.2 77.0,662.0 77.2,656.7 77.5,655.5 77.7,655.4 78.0,655.6 78.2,651.1 78.5,654.0 78.7,653.5 79.0,653.1 79.2,647.6 79.5,652.1 79.7,646.4 80.0,646.6 80.2,647.3 80.5,648.3 80.7,642.7 81.0,645.8 81.2,641.7 81.5,638.7 81.7,637.4 82.0,634.3 82.2,631.7 82.5,630.6 82.7,633.8 83.0,634.9 83.2,625.7 83.5,623.0 83.7,629.8 84.0,625.2 84.2,624.2 84.5,623.0 84.7,624.5 85.0,625.4 85.2,623.1 85.5,622.6 85.7,620.3 86.0,624.4 86.2,619.5 86.5,621.5 86.7,623.2 87.0,617.1 87.2,620.5 87.5,621.2 87.7,617.8 88.0,618.1 88.2,612.0 88.5,613.5 88.7,609.0 89.0,613.3 89.2,606.3 89.5,605.8 89.7,609.4 90.0,606.8 90.2,606.7 90.5,600.8 90.7,599.9 91.0,600.8 91.2,597.3 91.5,595.1 91.7,595.1 92.0,592.5 92.2,593.4 92.5,597.1 92.7,596.1 93.0,593.0 93.2,591.3 93.5,588.8 93.7,585.3 94.0,585.7 94.2,589.0 94.5,588.6 94.7,582.8 95.0,585.3 95.2,584.0 95.5,580.4 95.7,577.2 96.0,575.2 96.2,568.8 96.5,572.4 96.7,569.9 97.0,572.3 97.2,575.3 97.5,575.5 97.7,573.2 98.0,579.1 98.2,575.4 98.5,572.6 98.7,565.3 99.0,568.0 99.2,563.2 99.5,564.8 99.7,560.8 100.0,561.8 100.2,559.0 100.5,559.4 100.7,554.5 101.0,556.1 101.2,556.0 101.5,555.9 101.7,550.6 102.0,554.1 102.2,553.0 102.5,551.2 102.7,552.7 103.0,552.0 103.2,548.4 103.5,547.9 103.7,544.8 104.0,549.1 104.2,548.5 104.5,542.8 104.7,543.1 105.0,541.8 105.2,540.4 105.5,538.1 105.7,546.3 106.0,547.2 106.2,550.7 106.5,551.2 106.7,555.7 107.0,556.5 107.2,556.3 107.5,557.2 107.7,554.1 108.0,555.3 108.2,557.2 108.5,558.8 108.7,557.0 109.0,563.1 109.2,565.6 109.5,563.2 109.7,570.0 110.0,570.7 110.2,573.0 110.5,577.7 110.7,583.4 111.0,586.1 111.2,590.2 111.5,591.1 111.7,597.1 112.0,598.6 112.2,602.9 112.5,605.0 112.7,605.2 113.0,615.0 113.2,610.6 113.5,618.0 113.7,619.1 114.0,620.2 114.2,619.4 114.5,623.0 114.7,621.6 115.0,620.7 115.2,623.6 115.5,622.0 115.7,624.3 116.0,624.0 116.2,625.5 116.5,626.9 116.7,626.6 117.0,625.6 117.2,626.9 117.5,626.6 117.7,625.9 118.0,625.4 118.2,626.9 118.5,627.0 118.7,628.3 119.0,628.5 119.2,627.6 119.5,627.2 119.7,629.8 120.0,626.8 120.2,627.7 120.5,630.0 120.7,630.7 121.0,629.3 121.2,631.7 121.5,633.3 121.7,631.7 122.0,632.4 122.2,632.2 122.5,632.8 122.7,635.4 123.0,633.8 123.2,636.1 123.5,636.3 123.7,635.5 124.0,634.7 124.2,637.5 124.5,636.2 124.7,636.3 125.0,636.3 125.2,639.8 125.5,638.3 125.7,638.1 126.0,639.7 126.2,638.9 126.5,641.9 126.7,641.9 127.0,641.9 127.2,644.9 127.5,645.8 127.7,643.0 128.0,646.0 128.2,645.7 128.4,649.3 128.7,649.4 128.9,647.9 129.2,649.0 129.4,649.4 129.7,654.4 129.9,652.1 130.2,654.6 130.4,654.9 130.7,656.7 130.9,657.5 131.2,659.1 131.4,657.3 131.7,661.2 131.9,660.0 132.2,661.8 132.4,661.8 132.7,662.5 132.9,664.3 133.2,664.8 133.4,665.3 133.7,667.6 133.9,667.8 134.2,666.5 134.4,668.2 134.7,669.8 134.9,672.3 135.2,673.0 135.4,672.6 135.7,671.5 135.9,675.1 136.2,674.6 136.4,676.0 136.7,677.3 136.9,677.8 137.2,678.1 137.4,680.4 137.7,679.5 137.9,680.3 138.2,682.7 138.4,681.4 138.7,682.5 138.9,685.0 139.2,683.5 139.4,686.7 139.7,687.1 139.9,687.1 140.2,687.5 140.4,689.5 140.7,690.1 140.9,688.9 141.2,690.0 141.4,690.5 141.7,690.8 141.9,690.9 142.2,690.9 142.4,692.2 142.7,693.0 142.9,691.9 143.2,692.6 143.4,694.3 143.7,694.7 143.9,695.0 144.2,694.1 144.4,696.1 144.7,697.1 144.9,697.6 145.2,697.6 145.4,696.8 145.7,698.8 145.9,698.2 146.2,699.5 146.4,700.5 146.7,700.4 146.9,699.8 147.2,700.3 147.4,701.4 147.7,700.6 147.9,701.5 148.2,701.4 148.4,701.3 148.7,702.2 148.9,701.7 149.2,702.0 149.4,702.6 149.7,702.4 149.9,702.7 150.2,703.6 150.4,704.1 150.7,704.5 150.9,703.8 151.2,704.3 151.4,704.3 151.7,704.8 151.9,704.9 152.2,705.5 152.4,705.0 152.7,704.8 152.9,705.7 153.2,705.2 153.4,705.9 153.7,705.9 153.9,706.5 154.2,706.3 154.4,706.5 154.7,706.3 154.9,706.7 155.2,706.6 155.4,707.2 155.7,707.1 155.9,706.9 156.2,707.1 156.4,707.4 156.7,708.0 156.9,707.5 157.2,708.2 157.4,708.3 157.7,707.9 157.9,708.5 158.2,708.0 158.4,708.1 158.7,708.6 158.9,708.3 159.2,709.0 159.4,708.7 159.7,708.6 159.9,709.1 160.2,708.4 160.4,709.1 160.7,708.6 160.9,708.7 161.2,709.5 161.4,709.3 161.7,709.0 161.9,709.0 162.2,709.7 162.4,709.5 162.7,709.7 162.9,709.2 163.2,709.7 163.4,709.5 163.7,709.5 163.9,709.6 164.2,709.9 164.4,709.7 164.7,709.8 164.9,709.6 165.2,710.2 165.4,710.1 165.7,710.2 165.9,710.0 166.2,710.3 166.4,710.1 166.7,710.2 166.9,710.2 167.2,710.4 167.4,710.1 167.7,709.9 167.9,709.9 168.2,710.1 168.4,710.0 168.7,710.7 168.9,710.4 169.2,710.6 169.4,710.1 169.7,710.5 169.9,710.8 170.2,710.6 170.4,710.5 170.7,710.6 170.9,710.4 171.2,710.4 171.4,710.5 171.7,710.7 171.9,710.7 172.2,711.1 172.4,710.6 172.7,710.7 172.9,710.8 173.2,710.7 173.4,710.8 173.7,710.7 173.9,710.9 174.2,710.6 174.4,711.2 174.7,710.8 174.9,711.2 175.2,711.0 175.4,711.0 175.7,710.9 175.9,711.2 176.2,710.7 176.4,711.0 176.7,710.8 176.9,711.0 177.2,711.1 177.4,710.7 177.7,710.7 177.9,710.6 178.2,710.7 178.4,710.6 178.7,710.8 178.9,711.2 179.2,710.8 179.4,710.8 179.7,710.9 179.9,710.8 180.2,711.1 180.4,711.1 180.7,710.7 180.9,710.7 181.2,711.0 181.4,711.2 181.7,711.0 181.9,710.9 182.2,711.2 182.4,710.6 182.7,710.6 182.9,711.1 183.2,710.9 183.4,710.6 183.7,710.9 183.9,711.2 184.2,710.9 184.4,710.8 184.7,710.6 184.9,710.6 185.2,711.2 185.4,710.9 185.7,711.2 185.9,710.6 186.2,710.7 186.4,710.6 186.7,710.8 186.9,710.6 187.2,710.8 187.4,710.9 187.7,710.8 187.9,710.6 188.2,710.6 188.4,711.2 188.7,710.7 188.9,710.9 189.2,710.9 189.4,710.9 189.7,710.6 189.9,710.8 190.2,710.7 190.4,710.9 190.7,711.2 190.9,711.0 191.2,711.2 191.4,710.7 191.7,710.6 191.9,711.0 192.2,710.9 192.4,711.0 192.7,710.8 192.9,711.0 193.2,711.1 193.4,711.2 193.7,710.8 193.9,710.9 194.2,711.1 194.4,710.7 194.7,710.7 194.9,710.8 195.2,710.7 195.4,711.1 195.7,711.1 195.9,710.8 196.2,710.7 196.4,710.7 196.7,710.8 196.9,710.7 197.2,710.9 197.4,711.0 197.7,710.8 197.9,710.6 198.2,711.1 198.4,710.6 198.7,710.7 198.9,710.8 199.2,710.8 199.4,710.7 199.7,710.9 199.9,710.8 200.2,711.1 200.4,711.0 200.7,711.2 200.9,711.0 201.2,711.1 201.4,711.0 201.7,710.9 201.9,711.1 202.2,711.0 202.4,711.2 202.7,711.1 202.9,711.1 203.2,710.8 203.4,711.1 203.7,710.9 203.9,710.7 204.2,710.7 204.4,710.7 204.7,710.8 204.9,711.1 205.2,710.8 205.4,710.7 205.7,711.1 205.9,711.0 206.2,710.6 206.4,710.6 206.7,710.7 206.9,710.8 207.2,711.2 207.4,711.2 207.7,711.0 207.9,710.8 208.2,710.9 208.4,710.9 208.7,710.8 208.9,710.6 209.2,711.0 209.4,711.2 209.7,711.1 209.9,710.7 210.2,711.0 210.4,710.7 210.7,711.1 210.9,710.9 211.2,711.2 211.4,711.1 211.7,710.7 211.9,710.8 212.2,711.2 212.4,710.9 212.7,710.9 212.9,710.9 213.2,711.1 213.4,711.2 213.7,711.0 213.9,711.3 214.2,711.0 214.4,710.7 214.7,711.2 214.9,710.9 215.2,710.7 215.4,711.3 215.7,710.6 215.9,711.0 216.2,710.9 216.4,711.2 216.7,710.9 216.9,710.8 217.2,710.8 217.4,710.8 217.7,711.0 217.9,710.9 218.2,711.1 218.4,710.8 218.7,710.9 218.9,710.8 219.2,711.3 219.4,711.2 219.7,711.2 219.9,711.0 220.2,710.9 220.4,710.7 220.7,711.2 220.9,711.0 221.2,710.7 221.4,710.7 221.7,710.7 221.9,711.1 222.2,711.2 222.4,710.8 222.7,711.2 222.9,710.8 223.2,711.1 223.4,711.2 223.7,711.0 223.9,711.2 224.2,710.9 224.4,710.6 224.7,711.0 224.9,711.0 225.2,710.8 225.4,710.9 225.7,710.8 225.9,710.7 226.2,710.8 226.4,710.9 226.7,711.0 226.9,711.1 227.2,710.9 227.4,711.3 227.7,711.2 227.9,711.2 228.2,711.1 228.4,711.1 228.7,711.0 228.9,711.2 229.2,710.9 229.4,711.0 229.7,711.1 229.9,711.0 230.2,710.8 230.4,710.7 230.7,710.7 230.9,710.9 231.2,711.0 231.4,711.1 231.7,711.1 231.9,710.8 232.2,711.3 232.4,710.8 232.7,711.1 232.9,710.7 233.2,711.1 233.4,711.1 233.7,711.3 233.9,711.2 234.2,711.1 234.4,711.2 234.7,711.1 234.9,711.1 235.2,710.8 235.4,711.0 235.7,711.2 235.9,710.8 236.2,711.3 236.4,711.0 236.7,710.9 236.9,710.7 237.2,710.9 237.4,710.8 237.7,711.1 237.9,711.2 238.2,711.2 238.4,711.1 238.7,710.9 238.9,710.7 239.2,711.1 239.4,711.0 239.7,711.1 239.9,710.9 240.2,711.2 240.4,710.8 240.7,710.9 240.9,710.8 241.2,711.1 241.4,711.2 241.7,710.8 241.9,711.1 242.2,711.2 242.4,710.8 242.7,710.7 242.9,711.0 243.2,711.2 243.4,711.2 243.7,711.1 243.9,710.9 244.2,710.9 244.4,711.0 244.7,711.3 244.9,710.9 245.2,710.8 245.4,711.1 245.7,711.3 245.9,710.8 246.2,710.7 246.4,710.7 246.7,711.0 246.9,711.1 247.2,710.8 247.4,710.8 247.7,711.1 247.9,711.1 248.2,711.1 248.4,711.1 248.7,710.7 248.9,711.0 249.2,711.2 249.4,711.3 249.7,710.9 249.9,711.2 250.2,711.1 250.4,711.3 250.7,710.8 250.9,711.1 251.2,711.2 251.4,711.0 251.7,710.7 251.9,710.8 252.2,710.8 252.4,710.7 252.7,710.8 252.9,711.1 253.0,711.0" fill="none" stroke="#0c0cc8" stroke-width="2.2" stroke-linejoin="round" stroke-opacity="1"/>
<line x1="53.3" y1="523" x2="53.3" y2="711" stroke="#1010d0" stroke-width="3.2"/>
<line x1="287.2" y1="515" x2="287.2" y2="523" stroke="#c01414" stroke-width="2.6"/>
<polyline points="289.8,711.2 290.1,711.2 290.3,710.9 290.6,710.7 290.8,710.5 291.1,711.0 291.3,710.8 291.6,711.0 291.8,710.6 292.1,710.9 292.3,710.5 292.6,710.9 292.8,710.8 293.1,710.5 293.3,710.6 293.6,710.6 293.8,710.3 294.1,710.5 294.3,710.6 294.6,710.2 294.8,710.6 295.1,710.5 295.3,710.5 295.6,710.1 295.8,709.9 296.1,710.4 296.3,710.4 296.6,710.1 296.8,709.8 297.1,709.8 297.3,710.1 297.6,709.8 297.8,710.3 298.1,709.9 298.3,709.6 298.6,709.8 298.8,709.6 299.1,709.9 299.3,709.9 299.6,709.5 299.8,709.5 300.1,709.5 300.3,709.5 300.6,709.6 300.8,708.8 301.1,709.0 301.3,709.1 301.6,708.8 301.8,709.0 302.1,708.5 302.3,709.1 302.6,708.7 302.8,708.3 303.1,708.7 303.3,708.3 303.6,708.2 303.8,708.3 304.1,708.0 304.3,708.0 304.6,708.5 304.8,708.3 305.1,707.6 305.3,708.2 305.6,707.5 305.8,707.7 306.1,708.1 306.3,707.8 306.6,707.5 306.8,707.5 307.1,707.5 307.3,707.2 307.6,707.9 307.8,707.0 308.1,707.3 308.3,707.5 308.6,707.1 308.8,707.6 309.1,706.9 309.3,707.5 309.6,707.3 309.8,707.1 310.1,707.2 310.3,706.8 310.6,707.0 310.8,707.0 311.1,706.6 311.3,706.5 311.6,706.7 311.8,706.4 312.1,706.0 312.3,706.6 312.6,706.1 312.8,706.2 313.1,706.4 313.3,705.8 313.6,705.5 313.8,705.5 314.1,705.9 314.3,705.6 314.6,705.4 314.8,705.5 315.1,705.9 315.3,705.1 315.6,705.2 315.8,705.6 316.1,705.2 316.3,704.8 316.6,704.9 316.8,704.8 317.1,704.4 317.3,704.6 317.6,704.4 317.8,704.8 318.1,704.2 318.3,704.5 318.6,704.7 318.8,704.6 319.1,703.9 319.3,704.0 319.6,703.6 319.8,703.5 320.1,703.5 320.3,703.7 320.6,703.7 320.8,702.9 321.1,702.5 321.3,702.8 321.6,702.3 321.8,702.2 322.1,702.8 322.3,702.0 322.6,702.5 322.8,702.0 323.1,702.5 323.3,702.3 323.6,701.3 323.8,701.3 324.1,702.0 324.3,701.5 324.6,701.2 324.8,701.5 325.1,701.4 325.3,700.9 325.6,700.7 325.8,700.2 326.1,700.4 326.3,700.0 326.6,700.4 326.8,700.3 327.1,699.6 327.3,700.1 327.6,699.3 327.8,699.2 328.1,699.7 328.3,699.4 328.6,699.8 328.8,699.3 329.1,699.3 329.3,698.5 329.6,699.2 329.8,698.2 330.1,698.7 330.3,698.9 330.6,698.8 330.8,698.7 331.1,698.1 331.3,698.3 331.6,698.3 331.8,697.4 332.1,698.2 332.3,698.1 332.6,697.5 332.8,697.7 333.1,697.3 333.3,696.9 333.6,697.4 333.8,696.5 334.1,697.3 334.3,697.4 334.6,696.4 334.8,697.1 335.1,696.0 335.3,696.8 335.6,696.0 335.8,696.7 336.1,695.9 336.3,696.4 336.6,695.2 336.8,695.1 337.1,695.9 337.3,695.6 337.6,695.3 337.8,694.6 338.1,694.6 338.3,694.7 338.6,694.2 338.8,695.3 339.1,695.0 339.3,695.4 339.6,695.2 339.8,694.9 340.1,694.7 340.3,695.6 340.6,694.9 340.8,695.6 341.1,695.6 341.3,695.8 341.6,695.4 341.8,695.5 342.1,696.2 342.3,695.7 342.6,696.5 342.8,696.1 343.1,696.3 343.3,696.2 343.6,696.8 343.8,696.7 344.1,696.5 344.3,696.6 344.6,697.0 344.8,697.5 345.1,697.0 345.3,696.8 345.6,697.0 345.8,697.0 346.1,697.4 346.3,697.8 346.6,697.6 346.8,697.2 347.1,697.5 347.3,697.6 347.6,697.8 347.8,697.9 348.1,698.7 348.3,698.2 348.6,698.5 348.8,698.6 349.1,698.6 349.3,698.9 349.6,698.5 349.8,699.0 350.1,699.4 350.3,698.6 350.6,699.2 350.8,699.0 351.1,698.8 351.3,698.8 351.6,699.7 351.8,699.1 352.1,699.8 352.3,699.3 352.6,699.6 352.8,699.3 353.1,700.0 353.3,700.3 353.6,699.8 353.8,700.3 354.1,700.7 354.3,700.1 354.6,700.4 354.8,700.8 355.1,701.0 355.3,700.3 355.6,700.9 355.8,700.4 356.1,700.5 356.3,701.5 356.6,700.6 356.8,701.6 357.1,701.5 357.3,701.5 357.6,701.4 357.8,701.3 358.1,700.8 358.3,700.9 358.6,700.5 358.8,701.2 359.1,701.0 359.3,700.9 359.6,700.2 359.8,700.5 360.1,700.1 360.3,700.6 360.6,700.5 360.8,700.6 361.1,700.2 361.3,700.1 361.6,700.2 361.8,699.3 362.1,699.8 362.3,699.1 362.6,699.4 362.8,699.0 363.1,699.8 363.3,698.6 363.6,699.5 363.8,699.3 364.1,698.6 364.3,698.9 364.6,697.8 364.8,697.7 365.1,697.4 365.3,697.3 365.6,697.1 365.8,697.9 366.1,696.8 366.3,697.3 366.6,696.7 366.8,696.4 367.1,696.6 367.3,696.1 367.6,696.9 367.8,696.0 368.1,696.1 368.3,695.9 368.6,695.9 368.8,695.5 369.1,695.0 369.3,694.6 369.6,695.4 369.8,694.3 370.1,694.4 370.3,694.7 370.6,694.2 370.8,694.5 371.1,694.1 371.3,693.5 371.6,692.7 371.8,693.2 372.1,692.8 372.3,693.1 372.6,692.5 372.8,692.5 373.1,692.4 373.3,691.8 373.6,692.1 373.8,691.9 374.1,690.7 374.3,691.5 374.6,691.3 374.8,691.0 375.1,690.1 375.3,689.8 375.6,689.4 375.8,689.5 376.1,690.0 376.3,689.1 376.6,688.4 376.8,688.6 377.1,688.1 377.3,688.6 377.6,688.6 377.8,688.6 378.1,687.2 378.3,687.4 378.6,686.8 378.8,687.8 379.1,687.5 379.3,686.8 379.6,687.2 379.8,686.4 380.1,686.5 380.3,685.9 380.6,685.5 380.8,686.2 381.1,685.8 381.3,685.2 381.6,685.4 381.8,684.9 382.1,684.9 382.3,683.5 382.6,683.4 382.8,683.2 383.1,683.7 383.3,683.7 383.6,682.6 383.8,682.9 384.1,682.1 384.3,682.8 384.6,682.7 384.8,681.4 385.1,682.6 385.3,681.9 385.6,680.8 385.8,681.0 386.1,680.2 386.3,680.7 386.6,680.6 386.8,678.7 387.1,678.2 387.3,678.6 387.6,678.5 387.8,677.8 388.1,676.8 388.3,675.6 388.6,676.1 388.8,675.3 389.1,675.5 389.3,674.5 389.6,674.4 389.8,674.3 390.1,673.1 390.3,673.2 390.6,671.3 390.8,670.0 391.1,671.3 391.3,668.8 391.6,670.3 391.8,668.5 392.1,666.9 392.3,666.8 392.6,667.2 392.8,665.7 393.1,665.7 393.3,663.8 393.6,664.9 393.8,663.1 394.1,663.6 394.3,661.3 394.6,661.9 394.8,660.5 395.1,659.3 395.3,657.2 395.6,657.7 395.8,657.6 396.1,654.4 396.3,654.4 396.6,652.1 396.8,654.1 397.1,653.0 397.3,651.1 397.6,649.5 397.8,647.3 398.1,646.2 398.3,647.0 398.6,646.2 398.8,645.7 399.1,644.1 399.3,641.5 399.6,639.7 399.8,639.5 400.1,637.7 400.3,637.2 400.6,637.3 400.8,634.6 401.1,635.4 401.3,633.2 401.6,629.1 401.8,630.5 402.1,628.8 402.3,627.2 402.6,623.2 402.8,625.5 403.1,622.5 403.3,621.3 403.6,618.0 403.8,615.4 404.1,613.4 404.3,612.6 404.6,611.2 404.8,608.6 405.1,606.2 405.3,607.9 405.6,605.9 405.8,605.1 406.1,599.9 406.3,600.8 406.6,598.7 406.8,594.8 407.1,597.2 407.3,593.2 407.6,590.8 407.8,589.4 408.1,591.6 408.3,586.6 408.6,585.6 408.8,584.8 409.1,582.0 409.3,581.9 409.6,576.9 409.8,577.2 410.1,576.3 410.3,574.8 410.6,573.0 410.8,568.9 411.1,569.3 411.3,569.5 411.6,564.5 411.8,563.6 412.1,563.0 412.3,557.2 412.6,555.5 412.8,558.1 413.1,552.4 413.3,551.4 413.6,549.4 413.8,551.6 414.1,547.1 414.3,547.6 414.6,541.4 414.8,540.5 415.1,541.2 415.3,537.6 415.6,538.1 415.8,535.5 416.1,531.3 416.3,529.9 416.6,531.2 416.8,530.7 417.1,528.3 417.3,527.8 417.6,525.7 417.8,526.1 418.1,525.9 418.3,526.1 418.6,526.6 418.8,527.2 419.1,526.8 419.3,526.7 419.6,525.3 419.8,525.9 420.1,526.4 420.3,526.8 420.6,524.9 420.8,524.1 421.1,524.9 421.3,527.4 421.6,529.5 421.8,527.2 422.1,530.4 422.3,530.5 422.6,531.9 422.8,532.5 423.1,530.0 423.3,533.1 423.6,531.1 423.8,531.6 424.1,533.1 424.3,534.0 424.6,532.3 424.8,535.8 425.1,537.2 425.3,538.9 425.6,540.7 425.8,542.2 426.1,545.6 426.3,548.4 426.6,550.8 426.8,554.1 427.1,555.3 427.3,556.2 427.6,556.9 427.8,560.3 428.1,559.5 428.3,561.1 428.6,562.5 428.8,568.2 429.1,566.8 429.3,569.4 429.6,572.2 429.8,575.6 430.1,578.2 430.3,580.0 430.6,582.3 430.8,582.1 431.1,588.8 431.3,590.0 431.6,590.2 431.8,592.5 432.1,595.8 432.3,596.2 432.6,602.5 432.8,607.2 433.1,607.4 433.3,611.5 433.6,613.4 433.8,620.2 434.1,620.6 434.3,623.2 434.6,627.5 434.8,628.3 435.1,633.4 435.3,633.5 435.6,636.8 435.8,638.0 436.1,641.8 436.3,643.8 436.6,644.1 436.8,649.6 437.1,648.4 437.3,652.2 437.6,654.6 437.8,655.7 438.1,657.1 438.3,659.6 438.6,663.6 438.8,661.7 439.1,666.6 439.3,667.4 439.6,668.7 439.8,671.0 440.1,672.7 440.3,675.1 440.6,677.3 440.8,677.2 441.1,677.8 441.3,678.9 441.6,681.2 441.8,681.2 442.1,681.2 442.3,683.4 442.6,683.3 442.8,684.9 443.1,686.5 443.3,687.4 443.6,688.3 443.8,689.9 444.1,690.3 444.3,691.6 444.6,691.9 444.8,691.6 445.1,693.1 445.3,693.0 445.6,694.6 445.8,694.7 446.1,694.9 446.3,695.2 446.6,696.9 446.8,696.7 447.1,696.8 447.3,698.6 447.6,698.1 447.8,698.8 448.1,699.4 448.3,700.9 448.6,701.2 448.8,701.4 449.1,702.2 449.3,701.9 449.6,701.9 449.8,703.2 450.1,702.4 450.3,702.7 450.6,703.2 450.8,704.3 451.1,704.0 451.3,704.2 451.6,704.5 451.8,704.8 452.1,705.6 452.3,705.7 452.6,705.7 452.8,705.9 453.1,706.8 453.3,706.8 453.6,707.1 453.8,707.1 454.1,708.0 454.3,707.8 454.6,708.3 454.8,708.2 455.1,708.3 455.3,707.9 455.6,708.8 455.8,708.9 456.1,708.4 456.3,708.6 456.6,709.2 456.8,709.4 457.1,709.1 457.3,709.9 457.6,709.3 457.8,709.9 458.1,709.9 458.3,710.0 458.6,710.4 458.8,710.4 459.1,710.8 459.3,710.9 459.6,710.4 459.8,710.7 460.1,710.9 460.3,710.8 460.6,711.1 460.8,710.7 461.1,710.8 461.3,711.2 461.6,711.0 461.8,711.1 462.1,711.3 462.3,711.5 462.6,711.6 462.8,711.6 463.1,711.6 463.3,711.6 463.6,712.0 463.8,712.0 464.1,712.1 464.3,712.2 464.6,712.1 464.8,711.8 465.1,712.2 465.3,712.0 465.6,712.1 465.8,712.2 466.1,712.0 466.3,712.3 466.6,712.2 466.8,712.2 467.1,712.3 467.3,712.5 467.6,712.5 467.8,712.3 468.1,712.5 468.3,712.4 468.6,712.4 468.8,712.4 469.1,712.3 469.3,712.3 469.6,712.7 469.8,712.5 470.1,712.6 470.3,712.6 470.6,712.5 470.8,712.6 471.1,712.3 471.3,712.4 471.6,712.6 471.8,712.6 472.1,712.4 472.3,712.5 472.6,712.5 472.8,712.9 473.1,712.8 473.3,712.4 473.6,712.6 473.8,712.6 474.1,712.5 474.3,712.6 474.6,713.0 474.8,713.0 475.1,712.6 475.3,712.9 475.6,712.6 475.8,712.9 476.1,712.6 476.3,712.9 476.6,712.9 476.8,713.1 477.1,712.9 477.3,713.1 477.6,712.7 477.8,713.0 478.1,712.8 478.3,712.7 478.6,713.2 478.8,712.7 479.1,712.9 479.3,712.9 479.6,712.8 479.8,713.2 480.0,713.0" fill="none" stroke="#14cc14" stroke-width="2.2" stroke-linejoin="round" stroke-opacity="1"/>
<polyline points="289.8,709.9 290.1,709.7 290.3,710.0 290.6,709.6 290.8,709.9 291.1,709.7 291.3,709.5 291.6,709.8 291.8,709.4 292.1,709.7 292.3,709.3 292.6,709.3 292.8,709.6 293.1,709.8 293.3,709.3 293.6,709.3 293.8,709.6 294.1,709.8 294.3,709.5 294.6,709.3 294.8,709.7 295.1,709.0 295.3,709.6 295.6,709.1 295.8,708.9 296.1,708.9 296.3,709.0 296.6,709.4 296.8,708.8 297.1,709.1 297.3,709.1 297.6,708.9 297.8,708.9 298.1,708.4 298.3,708.4 298.6,708.4 298.8,708.7 299.1,708.4 299.3,708.2 299.6,708.4 299.8,708.2 300.1,707.9 300.3,708.3 300.6,708.1 300.8,707.6 301.1,707.8 301.3,707.7 301.6,707.9 301.8,707.7 302.1,707.2 302.3,707.8 302.6,706.9 302.8,707.1 303.1,707.3 303.3,706.7 303.6,706.9 303.8,706.3 304.1,706.8 304.3,706.8 304.6,706.5 304.8,706.6 305.1,706.0 305.3,706.2 305.6,706.0 305.8,705.8 306.1,705.6 306.3,705.9 306.6,705.8 306.8,705.3 307.1,705.3 307.3,704.6 307.6,705.1 307.8,704.9 308.1,705.2 308.3,704.9 308.6,704.2 308.8,704.2 309.1,704.3 309.3,703.5 309.6,703.8 309.8,703.3 310.1,703.1 310.3,702.9 310.6,703.5 310.8,702.6 311.1,702.6 311.3,702.6 311.6,702.9 311.8,701.9 312.1,702.1 312.3,702.1 312.6,702.3 312.8,702.1 313.1,702.0 313.3,701.1 313.6,701.1 313.8,700.9 314.1,701.3 314.3,701.2 314.6,700.2 314.8,700.0 315.1,700.0 315.3,699.9 315.6,700.0 315.8,700.0 316.1,699.5 316.3,699.1 316.6,699.5 316.8,699.3 317.1,699.4 317.3,699.7 317.6,699.3 317.8,699.0 318.1,699.0 318.3,698.9 318.6,698.1 318.8,698.9 319.1,698.5 319.3,698.4 319.6,698.0 319.8,697.2 320.1,697.0 320.3,696.3 320.6,696.8 320.8,695.8 321.1,695.5 321.3,695.4 321.6,695.1 321.8,695.1 322.1,694.5 322.3,694.1 322.6,694.1 322.8,693.8 323.1,693.9 323.3,693.2 323.6,694.1 323.8,693.5 324.1,692.6 324.3,692.5 324.6,692.4 324.8,692.2 325.1,691.6 325.3,692.4 325.6,692.3 325.8,691.3 326.1,691.1 326.3,690.3 326.6,690.1 326.8,690.2 327.1,689.8 327.3,690.4 327.6,689.2 327.8,688.7 328.1,689.8 328.3,688.9 328.6,688.1 328.8,688.5 329.1,687.4 329.3,687.9 329.6,688.4 329.8,687.9 330.1,687.4 330.3,686.6 330.6,686.5 330.8,686.0 331.1,686.7 331.3,686.2 331.6,686.3 331.8,685.5 332.1,685.1 332.3,685.8 332.6,685.9 332.8,685.5 333.1,685.2 333.3,685.0 333.6,684.7 333.8,683.7 334.1,684.0 334.3,683.6 334.6,683.0 334.8,682.9 335.1,683.2 335.3,683.0 335.6,683.5 335.8,683.8 336.1,682.9 336.3,683.5 336.6,683.5 336.8,683.3 337.1,682.3 337.3,682.0 337.6,681.9 337.8,681.7 338.1,681.7 338.3,682.4 338.6,682.9 338.8,682.9 339.1,682.4 339.3,682.8 339.6,683.0 339.8,682.1 340.1,683.0 340.3,683.4 340.6,683.3 340.8,683.4 341.1,683.2 341.3,683.0 341.6,684.2 341.8,683.8 342.1,684.8 342.3,685.3 342.6,684.6 342.8,684.9 343.1,686.0 343.3,685.9 343.6,685.3 343.8,685.5 344.1,685.7 344.3,687.0 344.6,687.0 344.8,686.2 345.1,687.4 345.3,687.8 345.6,687.5 345.8,687.2 346.1,687.7 346.3,687.3 346.6,687.3 346.8,688.5 347.1,687.6 347.3,687.1 347.6,687.4 347.8,686.2 348.1,686.6 348.3,686.2 348.6,684.8 348.8,684.6 349.1,684.3 349.3,683.8 349.6,684.1 349.8,683.4 350.1,683.5 350.3,682.9 350.6,683.9 350.8,682.9 351.1,682.9 351.3,682.9 351.6,683.2 351.8,682.3 352.1,682.9 352.3,682.1 352.6,682.0 352.8,681.8 353.1,680.9 353.3,681.4 353.6,680.8 353.8,680.4 354.1,681.4 354.3,680.3 354.6,680.6 354.8,680.8 355.1,680.4 355.3,679.7 355.6,679.7 355.8,679.3 356.1,679.3 356.3,677.7 356.6,678.1 356.8,677.1 357.1,676.7 357.3,677.2 357.6,676.3 357.8,676.0 358.1,676.0 358.3,675.8 358.6,674.4 358.8,674.2 359.1,673.5 359.3,673.0 359.6,672.9 359.8,671.9 360.1,671.6 360.3,671.0 360.6,671.4 360.8,670.4 361.1,670.3 361.3,669.9 361.6,668.0 361.8,668.1 362.1,668.4 362.3,667.7 362.6,665.7 362.8,665.2 363.1,665.4 363.3,664.1 363.6,663.9 363.8,663.1 364.1,663.8 364.3,663.4 364.6,663.1 364.8,660.6 365.1,661.3 365.3,660.5 365.6,658.6 365.8,659.8 366.1,659.3 366.3,656.8 366.6,658.0 366.8,655.9 367.1,655.5 367.3,656.1 367.6,655.1 367.8,652.7 368.1,652.7 368.3,652.3 368.6,651.1 368.8,650.1 369.1,649.7 369.3,650.1 369.6,647.6 369.8,648.3 370.1,647.1 370.3,645.0 370.6,645.1 370.8,645.1 371.1,643.9 371.3,641.6 371.6,643.6 371.8,642.1 372.1,641.8 372.3,638.3 372.6,637.9 372.8,636.4 373.1,637.8 373.3,635.4 373.6,634.2 373.8,634.3 374.1,635.0 374.3,633.8 374.6,631.2 374.8,630.1 375.1,631.7 375.3,629.8 375.6,629.2 375.8,625.6 376.1,624.2 376.3,625.4 376.6,623.1 376.8,620.4 377.1,622.6 377.3,620.2 377.6,619.4 377.8,614.4 378.1,616.4 378.3,611.0 378.6,613.3 378.8,609.7 379.1,607.5 379.3,607.0 379.6,607.4 379.8,603.1 380.1,601.1 380.3,601.6 380.6,599.0 380.8,597.1 381.1,596.0 381.3,594.1 381.6,593.5 381.8,592.7 382.1,591.3 382.3,592.2 382.6,588.6 382.8,588.3 383.1,585.4 383.3,584.8 383.6,581.9 383.8,581.7 384.1,579.2 384.3,581.4 384.6,579.2 384.8,576.0 385.1,576.1 385.3,577.1 385.6,572.1 385.8,574.3 386.1,571.3 386.3,570.4 386.6,570.9 386.8,567.6 387.1,567.0 387.3,566.7 387.6,567.0 387.8,562.7 388.1,564.0 388.3,561.5 388.6,559.3 388.8,556.1 389.1,553.9 389.3,550.3 389.6,549.0 389.8,546.9 390.1,549.5 390.3,545.1 390.6,543.0 390.8,541.0 391.1,544.0 391.3,542.7 391.6,539.9 391.8,536.9 392.1,536.2 392.3,535.8 392.6,535.9 392.8,534.2 393.1,534.7 393.3,533.4 393.6,535.6 393.8,535.1 394.1,532.8 394.3,531.3 394.6,533.4 394.8,530.9 395.1,530.7 395.3,529.2 395.6,530.2 395.8,530.2 396.1,530.0 396.3,528.7 396.6,529.4 396.8,527.8 397.1,528.5 397.3,527.9 397.6,528.6 397.8,527.5 398.1,527.3 398.3,528.0 398.6,527.4 398.8,528.2 399.1,527.5 399.3,527.8 399.6,526.9 399.8,526.7 400.1,526.8 400.3,524.4 400.6,524.4 400.8,529.4 401.1,526.0 401.3,530.5 401.6,531.3 401.8,529.3 402.1,534.6 402.3,535.9 402.6,535.6 402.8,537.1 403.1,538.5 403.3,536.2 403.6,538.9 403.8,539.5 404.1,541.7 404.3,542.4 404.6,543.2 404.8,542.9 405.1,545.0 405.3,545.3 405.6,546.6 405.8,545.4 406.1,545.7 406.3,547.5 406.6,550.0 406.8,549.9 407.1,555.0 407.3,555.5 407.6,558.0 407.8,560.0 408.1,562.3 408.3,563.1 408.6,561.9 408.8,569.1 409.1,570.8 409.3,571.3 409.6,573.6 409.8,576.4 410.1,574.8 410.3,581.1 410.6,580.0 410.8,580.8 411.1,583.8 411.3,588.2 411.6,587.1 411.8,591.9 412.1,595.3 412.3,594.5 412.6,596.0 412.8,598.7 413.1,602.0 413.3,604.6 413.6,605.8 413.8,608.1 414.1,606.9 414.3,608.9 414.6,611.2 414.8,615.3 415.1,614.8 415.3,617.8 415.6,616.8 415.8,618.8 416.1,621.5 416.3,625.1 416.6,626.9 416.8,628.0 417.1,627.7 417.3,629.9 417.6,630.9 417.8,632.2 418.1,632.1 418.3,636.3 418.6,634.9 418.8,639.1 419.1,640.1 419.3,638.0 419.6,640.9 419.8,643.4 420.1,645.2 420.3,644.6 420.6,645.2 420.8,646.2 421.1,649.3 421.3,648.0 421.6,649.3 421.8,648.7 422.1,650.1 422.3,651.5 422.6,650.0 422.8,652.0 423.1,651.7 423.3,653.0 423.6,653.0 423.8,652.4 424.1,654.3 424.3,653.8 424.6,653.1 424.8,653.3 425.1,654.5 425.3,654.7 425.6,654.7 425.8,654.6 426.1,655.2 426.3,655.4 426.6,656.7 426.8,655.3 427.1,657.0 427.3,657.5 427.6,656.3 427.8,658.0 428.1,657.8 428.3,658.3 428.6,657.3 428.8,657.6 429.1,657.8 429.3,659.1 429.6,658.5 429.8,658.3 430.1,658.6 430.3,658.4 430.6,658.2 430.8,658.5 431.1,659.9 431.3,659.0 431.6,660.2 431.8,659.1 432.1,659.2 432.3,659.7 432.6,659.2 432.8,659.6 433.1,660.7 433.3,660.7 433.6,660.7 433.8,660.4 434.1,661.0 434.3,661.0 434.6,660.3 434.8,660.6 435.1,659.4 435.3,660.5 435.6,660.0 435.8,660.5 436.1,660.2 436.3,659.6 436.6,659.1 436.8,660.6 437.1,659.2 437.3,659.7 437.6,659.5 437.8,659.4 438.1,660.1 438.3,660.4 438.6,659.2 438.8,659.8 439.1,659.2 439.3,659.6 439.6,659.3 439.8,658.9 440.1,658.8 440.3,658.9 440.6,660.0 440.8,659.3 441.1,658.8 441.3,659.9 441.6,660.1 441.8,659.1 442.1,658.7 442.3,659.0 442.6,658.9 442.8,659.6 443.1,659.3 443.3,659.7 443.6,659.9 443.8,660.7 444.1,661.4 444.3,661.3 444.6,660.9 444.8,661.0 445.1,661.4 445.1,661.4" fill="none" stroke="#d80c0c" stroke-width="2.2" stroke-linejoin="round" stroke-opacity="1"/>
<polyline points="288.9,709.8 289.1,710.3 289.4,709.5 289.6,709.8 289.9,709.3 290.1,709.3 290.4,709.8 290.6,709.0 290.9,709.3 291.1,709.0 291.4,708.9 291.6,708.8 291.9,708.5 292.1,708.9 292.4,708.2 292.6,708.2 292.9,707.9 293.1,708.0 293.4,708.0 293.6,708.4 293.9,707.9 294.1,707.6 294.4,707.7 294.6,708.3 294.9,707.4 295.1,707.9 295.4,707.6 295.6,707.8 295.9,707.5 296.1,707.7 296.4,707.5 296.6,707.6 296.9,707.8 297.1,707.5 297.4,707.1 297.6,706.9 297.9,707.7 298.1,707.2 298.4,706.9 298.6,707.5 298.9,707.2 299.1,707.3 299.4,707.4 299.6,706.7 299.9,706.6 300.1,706.9 300.4,706.0 300.6,706.4 300.9,705.6 301.1,706.0 301.4,705.8 301.6,705.9 301.9,705.6 302.1,705.1 302.4,704.6 302.6,704.3 302.9,704.5 303.1,704.3 303.4,703.8 303.6,704.5 303.9,704.1 304.1,704.2 304.4,703.7 304.6,703.6 304.9,703.3 305.1,703.6 305.4,703.5 305.6,703.6 305.9,703.5 306.1,703.9 306.4,703.9 306.6,703.1 306.9,703.3 307.1,703.0 307.4,703.3 307.6,703.5 307.9,702.4 308.1,702.9 308.4,702.2 308.6,701.7 308.9,702.3 309.1,701.6 309.4,701.3 309.6,701.4 309.9,700.9 310.1,700.9 310.4,700.8 310.6,700.6 310.9,700.6 311.1,700.0 311.4,699.6 311.6,699.4 311.9,699.2 312.1,699.5 312.4,699.2 312.6,699.5 312.9,699.0 313.1,699.0 313.4,699.1 313.6,697.8 313.9,697.6 314.1,697.6 314.4,697.7 314.6,697.7 314.9,697.7 315.1,696.7 315.4,697.2 315.6,695.4 315.9,696.2 316.1,694.8 316.4,695.4 316.6,693.8 316.9,694.7 317.1,694.0 317.4,693.9 317.6,692.9 317.9,692.1 318.1,693.0 318.4,692.2 318.6,691.5 318.9,692.1 319.1,691.7 319.4,691.6 319.6,691.0 319.9,690.7 320.1,691.2 320.4,690.9 320.6,690.1 320.9,690.1 321.1,690.1 321.4,689.6 321.6,688.7 321.9,688.0 322.1,687.5 322.4,686.7 322.6,686.2 322.9,686.1 323.1,685.0 323.4,685.6 323.6,685.2 323.9,684.9 324.1,683.8 324.4,684.2 324.6,684.1 324.9,683.4 325.1,684.6 325.4,684.1 325.6,683.5 325.9,683.7 326.1,682.7 326.4,682.6 326.6,682.7 326.9,682.8 327.1,682.3 327.4,680.9 327.6,681.6 327.9,681.7 328.1,681.1 328.4,681.1 328.6,680.9 328.9,679.2 329.1,679.0 329.4,679.2 329.6,679.7 329.9,678.6 330.1,679.3 330.4,679.0 330.6,678.3 330.9,678.3 331.1,678.7 331.4,678.3 331.6,677.3 331.9,678.0 332.1,676.8 332.4,676.6 332.6,677.3 332.9,676.5 333.1,675.0 333.4,674.4 333.6,674.5 333.9,674.5 334.1,673.6 334.4,673.6 334.6,672.7 334.9,672.4 335.1,671.6 335.4,671.0 335.6,670.9 335.9,670.8 336.1,670.7 336.4,671.0 336.6,669.8 336.9,669.3 337.1,670.3 337.4,669.3 337.6,669.6 337.9,669.3 338.1,670.7 338.4,669.9 338.6,670.2 338.9,671.3 339.1,671.0 339.4,670.8 339.6,672.0 339.9,671.5 340.1,671.7 340.4,673.2 340.6,673.2 340.9,673.4 341.1,672.9 341.4,674.2 341.6,674.2 341.9,674.9 342.1,674.4 342.4,675.5 342.6,675.9 342.9,675.6 343.1,676.6 343.4,677.3 343.6,678.3 343.9,678.6 344.1,678.8 344.4,678.1 344.6,679.5 344.9,680.1 345.1,679.5 345.4,680.7 345.6,681.8 345.9,682.1 346.1,682.4 346.4,681.3 346.6,682.4 346.9,683.0 347.1,683.0 347.4,682.7 347.6,682.5 347.9,684.1 348.1,684.2 348.4,684.2 348.6,684.0 348.9,684.9 349.1,685.1 349.4,685.2 349.6,685.4 349.9,685.3 350.1,685.6 350.4,686.0 350.6,686.3 350.9,686.9 351.1,686.6 351.4,687.9 351.6,687.7 351.9,687.7 352.1,688.2 352.4,688.5 352.6,688.2 352.9,688.5 353.1,687.1 353.4,686.9 353.6,686.7 353.9,686.2 354.1,686.8 354.4,685.4 354.6,685.0 354.9,685.5 355.1,685.4 355.4,685.3 355.6,684.6 355.9,684.0 356.1,684.6 356.4,684.2 356.6,683.5 356.9,683.4 357.1,683.7 357.4,683.6 357.6,683.2 357.9,681.7 358.1,681.8 358.4,681.7 358.6,681.0 358.9,681.7 359.1,680.3 359.4,681.4 359.6,680.7 359.9,680.5 360.1,679.9 360.4,680.5 360.6,679.7 360.9,680.0 361.1,679.8 361.4,679.2 361.6,679.4 361.9,678.4 362.1,677.9 362.4,678.5 362.6,677.7 362.9,677.1 363.1,677.4 363.4,676.6 363.6,675.6 363.9,676.5 364.1,675.5 364.4,676.0 364.6,674.8 364.9,675.2 365.1,673.6 365.4,673.1 365.6,673.3 365.9,673.4 366.1,673.1 366.4,672.4 366.6,671.0 366.9,671.1 367.1,670.1 367.4,670.4 367.6,671.1 367.9,669.6 368.1,669.9 368.4,669.3 368.6,668.0 368.9,668.7 369.1,667.1 369.4,667.0 369.6,667.4 369.9,666.1 370.1,667.4 370.4,666.0 370.6,666.0 370.9,666.2 371.1,663.8 371.4,665.3 371.6,662.7 371.9,663.4 372.1,663.0 372.4,663.3 372.6,661.4 372.9,662.2 373.1,661.0 373.4,660.1 373.6,659.0 373.9,658.6 374.1,658.4 374.4,657.8 374.6,657.7 374.9,658.4 375.1,657.6 375.4,658.0 375.6,656.9 375.9,657.0 376.1,657.9 376.4,658.2 376.6,657.1 376.9,656.5 377.1,656.8 377.4,657.0 377.6,656.9 377.9,657.2 378.1,656.7 378.4,656.9 378.6,656.8 378.9,656.3 379.1,655.7 379.4,654.8 379.6,653.5 379.9,654.4 380.1,652.6 380.4,653.5 380.6,652.0 380.9,651.9 381.1,651.1 381.4,651.0 381.6,649.7 381.9,649.8 382.1,649.7 382.4,648.3 382.6,648.3 382.9,647.5 383.1,647.0 383.4,646.3 383.6,646.2 383.9,646.0 384.1,643.7 384.4,642.8 384.6,644.0 384.9,641.1 385.1,642.4 385.4,641.6 385.6,639.2 385.9,639.7 386.1,637.8 386.4,638.9 386.6,636.1 386.9,635.1 387.1,634.1 387.4,635.4 387.6,633.1 387.9,632.6 388.1,634.0 388.4,631.4 388.6,629.8 388.9,627.4 389.1,626.1 389.4,621.6 389.6,623.7 389.9,619.9 390.1,620.7 390.4,619.4 390.6,620.3 390.9,617.8 391.1,620.0 391.4,617.6 391.6,618.3 391.9,618.0 392.1,619.0 392.4,618.0 392.6,618.1 392.9,615.6 393.1,611.0 393.4,607.4 393.6,605.3 393.9,606.5 394.1,605.8 394.4,602.2 394.6,598.7 394.9,598.6 395.1,597.7 395.4,594.8 395.6,595.6 395.9,592.3 396.1,590.4 396.4,589.4 396.6,590.1 396.9,589.8 397.1,586.6 397.4,586.2 397.6,586.4 397.9,583.3 398.1,583.3 398.4,582.5 398.6,580.4 398.9,578.3 399.1,579.4 399.4,578.3 399.6,574.7 399.9,576.5 400.1,574.6 400.4,574.4 400.6,572.9 400.9,570.7 401.1,570.7 401.4,567.9 401.6,568.4 401.9,564.9 402.1,565.1 402.4,564.8 402.6,565.5 402.9,563.6 403.1,563.6 403.4,562.4 403.6,562.0 403.9,559.7 404.1,558.8 404.4,557.4 404.6,555.5 404.9,557.1 405.1,555.5 405.4,552.7 405.6,552.2 405.9,551.3 406.1,552.6 406.4,551.0 406.6,547.8 406.9,549.1 407.1,547.2 407.4,544.5 407.6,544.2 407.9,545.9 408.1,540.2 408.4,539.5 408.6,540.2 408.9,540.3 409.1,539.4 409.4,536.0 409.6,536.8 409.9,532.8 410.1,533.1 410.4,534.4 410.6,532.5 410.9,530.5 411.1,530.9 411.4,530.8 411.6,531.2 411.9,532.5 412.1,533.1 412.4,530.8 412.6,532.9 412.9,533.7 413.1,532.0 413.4,530.8 413.6,529.5 413.9,529.2 414.1,528.8 414.4,528.2 414.6,525.3 414.9,528.2 415.1,526.1 415.4,527.3 415.6,526.4 415.9,528.1 416.1,526.5 416.4,527.7 416.6,528.1 416.9,528.5 417.1,531.0 417.4,530.5 417.6,533.9 417.9,535.7 418.1,535.6 418.4,537.3 418.6,537.8 418.9,536.5 419.1,537.0 419.4,538.6 419.6,539.5 419.9,538.8 420.1,539.7 420.4,540.3 420.6,540.2 420.9,540.6 421.1,540.7 421.4,541.4 421.6,542.0 421.9,543.7 422.1,541.9 422.4,542.2 422.6,545.6 422.9,544.6 423.1,545.8 423.4,547.1 423.6,547.2 423.9,547.2 424.1,549.4 424.4,548.8 424.6,548.7 424.9,548.4 425.1,549.0 425.4,552.2 425.6,553.3 425.9,551.8 426.1,553.2 426.4,555.3 426.6,556.5 426.9,556.2 427.1,561.7 427.4,561.2 427.6,563.9 427.9,565.4 428.1,565.6 428.4,568.4 428.6,567.1 428.9,570.0 429.1,571.6 429.4,572.7 429.6,572.3 429.9,572.9 430.1,573.7 430.4,575.0 430.6,576.4 430.9,578.9 431.1,580.5 431.4,582.1 431.6,582.0 431.9,584.5 432.1,582.4 432.4,584.8 432.6,584.9 432.9,587.6 433.1,589.2 433.4,590.7 433.6,591.5 433.9,592.6 434.1,593.8 434.4,594.2 434.6,596.1 434.9,599.0 435.1,601.6 435.4,601.5 435.6,608.3 435.9,606.4 436.1,609.6 436.4,613.4 436.6,614.0 436.9,615.7 437.1,617.3 437.4,617.9 437.6,619.6 437.9,619.4 438.1,621.2 438.4,621.2 438.6,621.2 438.9,622.0 439.1,623.4 439.4,625.3 439.6,625.7 439.9,628.0 440.1,629.7 440.4,631.9 440.6,630.2 440.9,634.5 441.1,632.2 441.4,636.8 441.6,638.4 441.9,637.3 442.1,640.1 442.4,640.3 442.6,641.7 442.9,644.0 443.1,645.6 443.4,644.5 443.6,645.5 443.9,649.1 444.1,649.4 444.4,652.1 444.6,651.1 444.9,654.9 445.1,653.9 445.4,655.3 445.6,657.3 445.9,661.1 446.1,660.7 446.4,662.2 446.6,663.0 446.9,663.6 447.1,666.0 447.4,667.4 447.6,668.2 447.9,670.6 448.1,670.6 448.4,673.8 448.6,674.8 448.9,675.1 449.1,675.0 449.4,677.5 449.6,678.9 449.9,680.2 450.1,680.9 450.4,682.9 450.6,684.5 450.9,684.7 451.1,684.2 451.4,686.2 451.6,687.0 451.9,687.7 452.1,689.3 452.4,688.4 452.6,689.2 452.9,691.4 453.1,691.1 453.4,692.0 453.6,694.0 453.9,694.1 454.1,695.5 454.4,696.0 454.6,696.4 454.9,696.5 455.1,696.7 455.4,698.6 455.6,699.1 455.9,699.7 456.1,699.7 456.4,700.0 456.6,701.1 456.9,701.4 457.1,701.7 457.4,701.9 457.6,702.6 457.9,702.6 458.1,703.0 458.4,704.2 458.6,704.4 458.9,704.7 459.1,704.6 459.4,705.2 459.6,704.8 459.9,705.6 460.1,706.3 460.4,706.4 460.6,706.9 460.9,706.9 461.1,706.9 461.4,706.9 461.6,707.4 461.9,708.0 462.1,707.8 462.4,708.0 462.6,708.3 462.9,708.0 463.1,708.0 463.4,708.8 463.6,708.6 463.9,708.3 464.1,709.0 464.4,709.1 464.6,709.2 464.9,708.8 465.1,709.1 465.4,709.6 465.6,709.6 465.9,709.5 466.1,710.1 466.4,709.7 466.6,710.3 466.9,709.8 467.1,710.2 467.4,710.7 467.6,710.6 467.9,710.8 468.1,711.0 468.4,710.8 468.6,710.8 468.9,711.1 469.1,710.9 469.4,711.3 469.6,711.2 469.9,710.7 470.1,710.9 470.4,711.4 470.6,710.9 470.9,710.9 471.1,711.3 471.4,711.4 471.6,711.7 471.9,711.7 472.1,711.5 472.4,711.6 472.6,711.5 472.9,711.8 473.1,711.7 473.4,711.4 473.6,711.8 473.9,711.5 474.1,711.7 474.4,711.7 474.6,712.2 474.9,711.8 475.1,711.9 475.4,712.1 475.6,711.9 475.9,712.1 476.1,712.0 476.4,712.3 476.6,712.4 476.9,712.3 477.1,712.5 477.4,712.3 477.6,712.5 477.9,712.1 478.1,712.3 478.4,712.3 478.6,712.6 478.9,712.4 479.1,712.4 479.4,712.5 479.6,712.7 479.9,712.6 480.1,712.6 480.4,712.6 480.6,712.7 480.9,712.6 481.1,712.5 481.4,712.5 481.6,712.5 481.9,712.5 482.1,712.6 482.4,712.8 482.6,712.5 482.9,712.6 483.1,712.5 483.4,712.7 483.6,712.5 483.9,712.8 484.1,712.9 484.4,712.9 484.6,712.7 484.9,712.6 485.1,712.9 485.4,712.9 485.6,712.7 485.9,712.6 486.1,712.9 486.4,712.8 486.6,712.9 486.9,712.9 487.1,713.1 487.4,712.7 487.6,712.8 487.9,712.7 488.1,713.0 488.4,712.8 488.6,713.2 488.9,713.0 489.0,713.0" fill="none" stroke="#1460cc" stroke-width="2.2" stroke-linejoin="round" stroke-opacity="1"/>
<line x1="287.2" y1="523" x2="287.2" y2="713" stroke="#1a52aa" stroke-width="2.6"/>
</svg></body></html>
